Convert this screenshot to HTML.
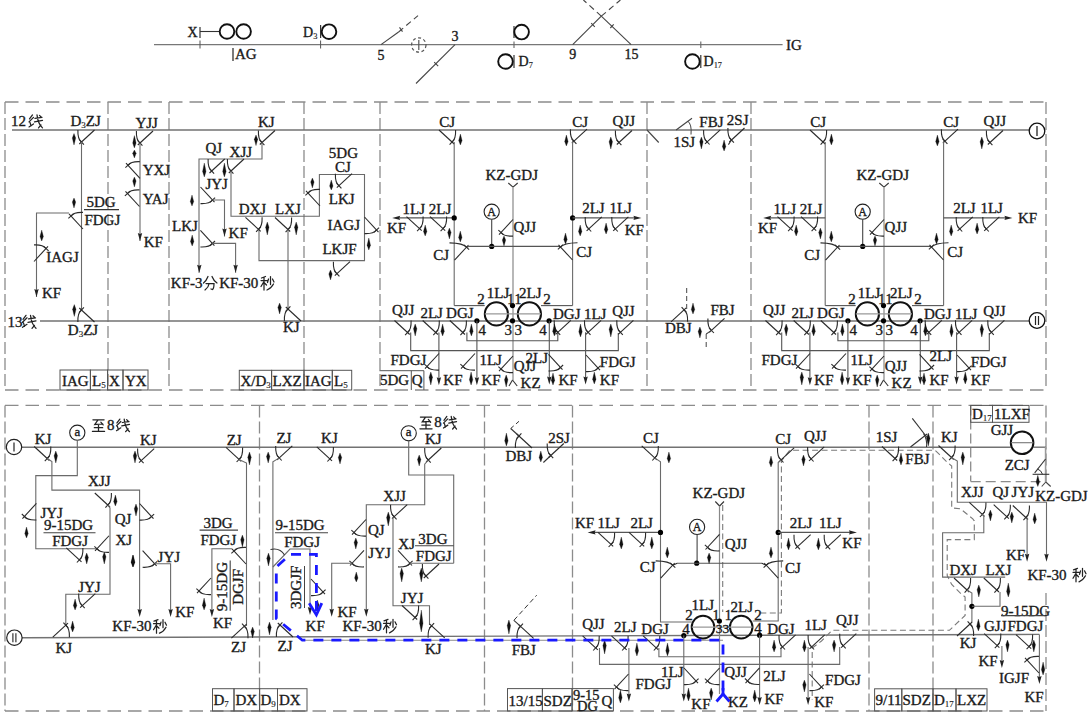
<!DOCTYPE html>
<html><head><meta charset="utf-8"><style>
html,body{margin:0;padding:0;background:#fff;}
svg{display:block;}
text{font-family:"Liberation Serif",serif;stroke:#1a1a1a;stroke-width:0.35px;}
</style></head><body>
<svg width="1090" height="720" viewBox="0 0 1090 720">
<rect width="1090" height="720" fill="#fff"/>
<line x1="154" y1="44.6" x2="782.6" y2="44.6" stroke="#777" stroke-width="1.1" />
<text x="786" y="49.6" font-size="15" text-anchor="start" fill="#1a1a1a" >IG</text>
<text x="187.5" y="37.0" font-size="14" text-anchor="start" fill="#1a1a1a" >X</text>
<line x1="200" y1="27" x2="200" y2="38" stroke="#333" stroke-width="1.2" />
<line x1="200" y1="31.5" x2="219.7" y2="31.5" stroke="#333" stroke-width="1.1" />
<circle cx="227" cy="31.5" r="7.3" fill="none" stroke="#111" stroke-width="1.9" />
<circle cx="243.6" cy="31.5" r="7.3" fill="none" stroke="#111" stroke-width="1.9" />
<line x1="200" y1="40.5" x2="200" y2="48.5" stroke="#555" stroke-width="1" />
<line x1="233" y1="48" x2="233" y2="61" stroke="#333" stroke-width="1.3"/>
<text x="235" y="59.4" font-size="15" text-anchor="start" fill="#1a1a1a" >AG</text>
<text x="303" y="36.8" font-size="14" text-anchor="start" fill="#1a1a1a">D<tspan font-size="8.4" dy="2" style="stroke-width:0.15px">3</tspan></text>
<line x1="320.6" y1="25" x2="320.6" y2="38" stroke="#333" stroke-width="1.2" />
<circle cx="329" cy="31.7" r="7.3" fill="none" stroke="#111" stroke-width="1.9" />
<line x1="320.6" y1="40.5" x2="320.6" y2="48.5" stroke="#555" stroke-width="1" />
<line x1="381" y1="44.6" x2="398.6" y2="32" stroke="#444" stroke-width="1.1" />
<line x1="398.6" y1="32" x2="418" y2="15.6" stroke="#444" stroke-width="1.1" stroke-dasharray="6 4" stroke-dashoffset="0"/>
<line x1="399.5" y1="27.4" x2="402.5" y2="31.6" stroke="#444" stroke-width="1.1" />
<text x="381" y="60.1" font-size="14" text-anchor="middle" fill="#1a1a1a" >5</text>
<circle cx="418.8" cy="45" r="7.2" fill="none" stroke="#555" stroke-width="1.2" stroke-dasharray="3 2.5"/>
<line x1="418.8" y1="40" x2="418.8" y2="50" stroke="#555" stroke-width="1.2" />
<line x1="455" y1="44.6" x2="416" y2="83.5" stroke="#444" stroke-width="1.1" />
<line x1="434.2" y1="62.2" x2="438.2" y2="66.2" stroke="#444" stroke-width="1.1" />
<text x="455" y="41.1" font-size="14" text-anchor="middle" fill="#1a1a1a" >3</text>
<line x1="514" y1="41.5" x2="514" y2="48" stroke="#666" stroke-width="1.1" />
<line x1="514" y1="26" x2="514" y2="38" stroke="#333" stroke-width="1.2" />
<circle cx="521.6" cy="32.1" r="7.3" fill="none" stroke="#111" stroke-width="1.9" />
<line x1="514" y1="55" x2="514" y2="68" stroke="#333" stroke-width="1.2" />
<circle cx="505.5" cy="61.5" r="7.3" fill="none" stroke="#111" stroke-width="1.9" />
<text x="518.5" y="66.1" font-size="14" text-anchor="start" fill="#1a1a1a">D<tspan font-size="8.4" dy="2" style="stroke-width:0.15px">7</tspan></text>
<line x1="572.7" y1="44.6" x2="601.3" y2="16.2" stroke="#444" stroke-width="1.1" />
<line x1="601.3" y1="16.2" x2="620.4" y2="0" stroke="#444" stroke-width="1.1" stroke-dasharray="6 4" stroke-dashoffset="0"/>
<line x1="631.1" y1="44.6" x2="601.3" y2="16.2" stroke="#444" stroke-width="1.1" />
<line x1="601.3" y1="16.2" x2="583.4" y2="0" stroke="#444" stroke-width="1.1" stroke-dasharray="6 4" stroke-dashoffset="0"/>
<line x1="591.2" y1="23.2" x2="594.8" y2="26.8" stroke="#444" stroke-width="1.1" />
<line x1="610.3" y1="28" x2="613.7" y2="24.4" stroke="#444" stroke-width="1.1" />
<text x="572.7" y="59.2" font-size="14" text-anchor="middle" fill="#1a1a1a" >9</text>
<text x="631.5" y="59.2" font-size="14" text-anchor="middle" fill="#1a1a1a" >15</text>
<line x1="700.8" y1="41.5" x2="700.8" y2="48" stroke="#666" stroke-width="1.1" />
<line x1="700.8" y1="55" x2="700.8" y2="68" stroke="#333" stroke-width="1.2" />
<circle cx="692.4" cy="61.5" r="7.3" fill="none" stroke="#111" stroke-width="1.9" />
<text x="703.5" y="66.1" font-size="14" text-anchor="start" fill="#1a1a1a">D<tspan font-size="8.4" dy="2" style="stroke-width:0.15px">17</tspan></text>
<line x1="5" y1="102" x2="1046" y2="102" stroke="#8c8c8c" stroke-width="1.3" stroke-dasharray="13.5 7" stroke-dashoffset="0"/>
<line x1="5" y1="390" x2="1046" y2="390" stroke="#8c8c8c" stroke-width="1.3" stroke-dasharray="13.5 7" stroke-dashoffset="0"/>
<line x1="5" y1="102" x2="5" y2="390" stroke="#8c8c8c" stroke-width="1.3" stroke-dasharray="12 4" stroke-dashoffset="0"/>
<line x1="108" y1="102" x2="108" y2="390" stroke="#8c8c8c" stroke-width="1.3" stroke-dasharray="12 4" stroke-dashoffset="0"/>
<line x1="169" y1="102" x2="169" y2="390" stroke="#8c8c8c" stroke-width="1.3" stroke-dasharray="12 4" stroke-dashoffset="0"/>
<line x1="304" y1="102" x2="304" y2="390" stroke="#8c8c8c" stroke-width="1.3" stroke-dasharray="12 4" stroke-dashoffset="0"/>
<line x1="380" y1="102" x2="380" y2="390" stroke="#8c8c8c" stroke-width="1.3" stroke-dasharray="12 4" stroke-dashoffset="0"/>
<line x1="647" y1="102" x2="647" y2="390" stroke="#8c8c8c" stroke-width="1.3" stroke-dasharray="12 4" stroke-dashoffset="0"/>
<line x1="751" y1="102" x2="751" y2="390" stroke="#8c8c8c" stroke-width="1.3" stroke-dasharray="12 4" stroke-dashoffset="0"/>
<line x1="1046" y1="102" x2="1046" y2="390" stroke="#8c8c8c" stroke-width="1.3" stroke-dasharray="12 4" stroke-dashoffset="0"/>
<line x1="12" y1="130" x2="1029" y2="130" stroke="#727272" stroke-width="1.4" />
<line x1="40" y1="321" x2="1029" y2="321" stroke="#727272" stroke-width="1.4" />
<circle cx="1037" cy="131" r="7.8" fill="none" stroke="#111" stroke-width="1.3" />
<line x1="1037" y1="126" x2="1037" y2="136" stroke="#222" stroke-width="1.3" />
<circle cx="1037" cy="320.5" r="7.8" fill="none" stroke="#111" stroke-width="1.3" />
<line x1="1035.5" y1="316" x2="1035.5" y2="325" stroke="#222" stroke-width="1.2" />
<line x1="1038.5" y1="316" x2="1038.5" y2="325" stroke="#222" stroke-width="1.2" />
<text x="11" y="126.4" font-size="15" text-anchor="start" fill="#1a1a1a" >12</text>
<path transform="translate(28,113.9) scale(1.0)" d="M1.5,5 L4.5,1 M1,8 L5.5,3.5 M1,13 L5.5,10 M2,8.5 L3,12 M7,4.5 L14,3.5 M6.5,8 L14.5,6.5 M9,1 Q10,10 14.5,14 M13,11 L10.5,14 M11.5,1.5 L13,3" fill="none" stroke="#222" stroke-width="1.25" stroke-linecap="round"/>
<text x="70.5" y="126.4" font-size="15" text-anchor="start" fill="#1a1a1a">D<tspan font-size="9.0" dy="2" style="stroke-width:0.15px">3</tspan><tspan dy="-2">ZJ</tspan></text>
<g transform="translate(81.5,142) rotate(0) scale(-1.0,1.0)" fill="none" stroke="#2a2a2a" stroke-width="1.1"><path d="M2.2,2 L-13,-12"/><path d="M3.6,-12 Q4,-3 0,0"/><path d="M-2.4,2.6 L2.4,-2.6"/></g>
<path d="M74,133.5 L75.70,138.10 L74,145 L72.30,138.10 Z" fill="#111" stroke="#111" stroke-width="0.3"/>
<line x1="81.5" y1="142" x2="81.5" y2="310" stroke="#6a6a6a" stroke-width="1.1" />
<g transform="translate(71,216) rotate(90) scale(-1.0,1.0)" fill="none" stroke="#2a2a2a" stroke-width="1.1"><path d="M2.2,2 L-13,-12"/><path d="M3.6,-12 Q4,-3 0,0"/><path d="M-2.4,2.6 L2.4,-2.6"/></g>
<polyline points="36.5,297 36.5,213 69,213" fill="none" stroke="#6a6a6a" stroke-width="1.1" />
<path d="M74,198 L75.70,202.00 L74,208 L72.30,202.00 Z" fill="#111" stroke="#111" stroke-width="0.3"/>
<text x="86.5" y="207.2" font-size="15" text-anchor="start" fill="#1a1a1a" >5DG</text>
<line x1="84" y1="209.6" x2="119" y2="209.6" stroke="#333" stroke-width="1.1" />
<text x="84.4" y="224.9" font-size="15" text-anchor="start" fill="#1a1a1a" >FDGJ</text>
<g transform="translate(46,248.5) rotate(-90) scale(1.0,1.0)" fill="none" stroke="#2a2a2a" stroke-width="1.1"><path d="M2.2,2 L-13,-12"/><path d="M3.6,-12 Q4,-3 0,0"/><path d="M-2.4,2.6 L2.4,-2.6"/></g>
<path d="M41.7,230 L43.40,236.60 L41.7,241 L40.00,236.60 Z" fill="#111" stroke="#111" stroke-width="0.3"/>
<text x="46.3" y="262.1" font-size="15" text-anchor="start" fill="#1a1a1a" >IAGJ</text>
<path d="M34.3,289 L36.5,297 L38.7,289 L36.5,290 Z" fill="#222"/>
<text x="42" y="297.6" font-size="15" text-anchor="start" fill="#1a1a1a" >KF</text>
<g transform="translate(81.5,310) rotate(0) scale(-1.0,-1.0)" fill="none" stroke="#2a2a2a" stroke-width="1.1"><path d="M2.2,2 L-13,-12"/><path d="M3.6,-12 Q4,-3 0,0"/><path d="M-2.4,2.6 L2.4,-2.6"/></g>
<path d="M74.3,304.6 L76.00,309.32 L74.3,316.4 L72.60,309.32 Z" fill="#111" stroke="#111" stroke-width="0.3"/>
<text x="7.5" y="326.8" font-size="15" text-anchor="start" fill="#1a1a1a" >13</text>
<path transform="translate(21.5,314.3) scale(1.0)" d="M1.5,5 L4.5,1 M1,8 L5.5,3.5 M1,13 L5.5,10 M2,8.5 L3,12 M7,4.5 L14,3.5 M6.5,8 L14.5,6.5 M9,1 Q10,10 14.5,14 M13,11 L10.5,14 M11.5,1.5 L13,3" fill="none" stroke="#222" stroke-width="1.25" stroke-linecap="round"/>
<text x="67.8" y="335.3" font-size="15" text-anchor="start" fill="#1a1a1a">D<tspan font-size="9.0" dy="2" style="stroke-width:0.15px">3</tspan><tspan dy="-2">ZJ</tspan></text>
<text x="135.4" y="128.0" font-size="15" text-anchor="start" fill="#1a1a1a" >YJJ</text>
<g transform="translate(140,143) rotate(0) scale(-1.0,1.0)" fill="none" stroke="#2a2a2a" stroke-width="1.1"><path d="M2.2,2 L-13,-12"/><path d="M3.6,-12 Q4,-3 0,0"/><path d="M-2.4,2.6 L2.4,-2.6"/></g>
<line x1="140" y1="143" x2="140" y2="241" stroke="#6a6a6a" stroke-width="1.1" />
<path d="M134.4,135.6 L136.10,143.04 L134.4,148 L132.70,143.04 Z" fill="#111" stroke="#111" stroke-width="0.3"/>
<path d="M134.4,150 L136.10,153.20 L134.4,158 L132.70,153.20 Z" fill="#111" stroke="#111" stroke-width="0.3"/>
<g transform="translate(128,165.3) rotate(90) scale(-1.0,1.0)" fill="none" stroke="#2a2a2a" stroke-width="1.1"><path d="M2.2,2 L-13,-12"/><path d="M3.6,-12 Q4,-3 0,0"/><path d="M-2.4,2.6 L2.4,-2.6"/></g>
<text x="142.7" y="174.9" font-size="15" text-anchor="start" fill="#1a1a1a" >YXJ</text>
<path d="M134.4,177 L136.10,181.00 L134.4,187 L132.70,181.00 Z" fill="#111" stroke="#111" stroke-width="0.3"/>
<g transform="translate(127.5,193.5) rotate(90) scale(-1.0,1.0)" fill="none" stroke="#2a2a2a" stroke-width="1.1"><path d="M2.2,2 L-13,-12"/><path d="M3.6,-12 Q4,-3 0,0"/><path d="M-2.4,2.6 L2.4,-2.6"/></g>
<text x="142.7" y="204.1" font-size="15" text-anchor="start" fill="#1a1a1a" >YAJ</text>
<path d="M137.8,233 L140,241 L142.2,233 L140,234 Z" fill="#222"/>
<text x="143.7" y="246.6" font-size="15" text-anchor="start" fill="#1a1a1a" >KF</text>
<text x="258" y="127.4" font-size="15" text-anchor="start" fill="#1a1a1a" >KJ</text>
<g transform="translate(262,142.5) rotate(0) scale(-1.0,1.0)" fill="none" stroke="#2a2a2a" stroke-width="1.1"><path d="M2.2,2 L-13,-12"/><path d="M3.6,-12 Q4,-3 0,0"/><path d="M-2.4,2.6 L2.4,-2.6"/></g>
<path d="M256,135 L257.70,139.24 L256,145.6 L254.30,139.24 Z" fill="#111" stroke="#111" stroke-width="0.3"/>
<polyline points="262,142.5 262,159 199,159 199,272.7" fill="none" stroke="#6a6a6a" stroke-width="1.1" />
<path d="M197.10000000000002,264.7 L199.3,272.7 L201.5,264.7 L199.3,265.7 Z" fill="#222"/>
<text x="205.4" y="152.8" font-size="15" text-anchor="start" fill="#1a1a1a" >QJ</text>
<g transform="translate(211.7,171) rotate(0) scale(-1.0,1.0)" fill="none" stroke="#2a2a2a" stroke-width="1.1"><path d="M2.2,2 L-13,-12"/><path d="M3.6,-12 Q4,-3 0,0"/><path d="M-2.4,2.6 L2.4,-2.6"/></g>
<path d="M204.3,163 L206.00,171.40 L204.3,177 L202.60,171.40 Z" fill="#111" stroke="#111" stroke-width="0.3"/>
<text x="229.6" y="156.5" font-size="15" text-anchor="start" fill="#1a1a1a" >XJJ</text>
<g transform="translate(231,171) rotate(0) scale(-1.0,1.0)" fill="none" stroke="#2a2a2a" stroke-width="1.1"><path d="M2.2,2 L-13,-12"/><path d="M3.6,-12 Q4,-3 0,0"/><path d="M-2.4,2.6 L2.4,-2.6"/></g>
<path d="M224.4,163 L226.10,171.40 L224.4,177 L222.70,171.40 Z" fill="#111" stroke="#111" stroke-width="0.3"/>
<polyline points="231,171 231,216.2 319.4,216.2 319.4,174.5 364.5,174.5 364.5,260.6 259,260.6 259,229" fill="none" stroke="#6a6a6a" stroke-width="1.1" />
<text x="205.4" y="188.5" font-size="15" text-anchor="start" fill="#1a1a1a" >JYJ</text>
<g transform="translate(212.5,200) rotate(-90) scale(-1.0,1.0)" fill="none" stroke="#2a2a2a" stroke-width="1.1"><path d="M2.2,2 L-13,-12"/><path d="M3.6,-12 Q4,-3 0,0"/><path d="M-2.4,2.6 L2.4,-2.6"/></g>
<polyline points="212.5,200 224.5,200 224.5,236.4" fill="none" stroke="#6a6a6a" stroke-width="1.1" />
<path d="M222.3,228.4 L224.5,236.4 L226.7,228.4 L224.5,229.4 Z" fill="#222"/>
<path d="M192,195 L193.70,201.60 L192,206 L190.30,201.60 Z" fill="#111" stroke="#111" stroke-width="0.3"/>
<text x="228.6" y="238.2" font-size="15" text-anchor="start" fill="#1a1a1a" >KF</text>
<text x="172" y="231.2" font-size="15" text-anchor="start" fill="#1a1a1a" >LKJ</text>
<g transform="translate(212.4,243.4) rotate(-90) scale(-1.0,1.0)" fill="none" stroke="#2a2a2a" stroke-width="1.1"><path d="M2.2,2 L-13,-12"/><path d="M3.6,-12 Q4,-3 0,0"/><path d="M-2.4,2.6 L2.4,-2.6"/></g>
<polyline points="212.4,243.4 235.6,243.4 235.6,272.7" fill="none" stroke="#6a6a6a" stroke-width="1.1" />
<path d="M233.4,264.7 L235.6,272.7 L237.79999999999998,264.7 L235.6,265.7 Z" fill="#222"/>
<path d="M192.2,235 L193.90,241.60 L192.2,246 L190.50,241.60 Z" fill="#111" stroke="#111" stroke-width="0.3"/>
<text x="170.8" y="287.9" font-size="15" text-anchor="start" fill="#1a1a1a" >KF-3</text>
<path transform="translate(202.5,275.5) scale(1.0)" d="M5.5,1 Q4,5 1,7.5 M9.5,1 Q11,5 14.5,7.5 M3.5,8 L11.5,8 Q11.5,13 10,14 L8.5,13.5 M6.5,8.5 Q6,12 2.5,14.5" fill="none" stroke="#222" stroke-width="1.25" stroke-linecap="round"/>
<text x="219.2" y="287.9" font-size="15" text-anchor="start" fill="#1a1a1a" >KF-30</text>
<path transform="translate(260,275.5) scale(1.0)" d="M5.5,1 L1.5,2.5 M1,5 L7,5 M4,2 L4,14.5 M4,6 L1,11 M4,7 L6.5,9.5 M10.5,1 L10.5,9 M8.5,3.5 L7.5,7 M12.5,3.5 L14,6.5 M13.5,8.5 Q11,13 7,14.5" fill="none" stroke="#222" stroke-width="1.25" stroke-linecap="round"/>
<text x="238.7" y="214.0" font-size="15" text-anchor="start" fill="#1a1a1a" >DXJ</text>
<g transform="translate(258.5,229.3) rotate(0) scale(1.0,1.0)" fill="none" stroke="#2a2a2a" stroke-width="1.1"><path d="M2.2,2 L-13,-12"/><path d="M3.6,-12 Q4,-3 0,0"/><path d="M-2.4,2.6 L2.4,-2.6"/></g>
<path d="M267.3,222 L269.00,227.20 L267.3,235 L265.60,227.20 Z" fill="#111" stroke="#111" stroke-width="0.3"/>
<text x="275" y="214.0" font-size="15" text-anchor="start" fill="#1a1a1a" >LXJ</text>
<g transform="translate(288,229.5) rotate(0) scale(1.0,1.0)" fill="none" stroke="#2a2a2a" stroke-width="1.1"><path d="M2.2,2 L-13,-12"/><path d="M3.6,-12 Q4,-3 0,0"/><path d="M-2.4,2.6 L2.4,-2.6"/></g>
<path d="M296.2,222 L297.90,227.20 L296.2,235 L294.50,227.20 Z" fill="#111" stroke="#111" stroke-width="0.3"/>
<line x1="288" y1="229.5" x2="288" y2="309" stroke="#6a6a6a" stroke-width="1.1" />
<g transform="translate(288,309) rotate(0) scale(-1.0,-1.0)" fill="none" stroke="#2a2a2a" stroke-width="1.1"><path d="M2.2,2 L-13,-12"/><path d="M3.6,-12 Q4,-3 0,0"/><path d="M-2.4,2.6 L2.4,-2.6"/></g>
<path d="M279.6,303 L281.30,307.40 L279.6,314 L277.90,307.40 Z" fill="#111" stroke="#111" stroke-width="0.3"/>
<text x="283" y="332.1" font-size="15" text-anchor="start" fill="#1a1a1a" >KJ</text>
<text x="328.8" y="157.9" font-size="15" text-anchor="start" fill="#1a1a1a" >5DG</text>
<text x="335" y="171.6" font-size="15" text-anchor="start" fill="#1a1a1a" >CJ</text>
<g transform="translate(339,185.7) rotate(0) scale(-1.0,1.0)" fill="none" stroke="#2a2a2a" stroke-width="1.1"><path d="M2.2,2 L-13,-12"/><path d="M3.6,-12 Q4,-3 0,0"/><path d="M-2.4,2.6 L2.4,-2.6"/></g>
<path d="M331.3,180 L333.00,186.00 L331.3,190 L329.60,186.00 Z" fill="#111" stroke="#111" stroke-width="0.3"/>
<text x="328.8" y="204.4" font-size="15" text-anchor="start" fill="#1a1a1a" >LKJ</text>
<g transform="translate(308,193) rotate(90) scale(-1.0,1.0)" fill="none" stroke="#2a2a2a" stroke-width="1.1"><path d="M2.2,2 L-13,-12"/><path d="M3.6,-12 Q4,-3 0,0"/><path d="M-2.4,2.6 L2.4,-2.6"/></g>
<path d="M312.4,178 L314.10,182.00 L312.4,188 L310.70,182.00 Z" fill="#111" stroke="#111" stroke-width="0.3"/>
<text x="327.5" y="230.2" font-size="15" text-anchor="start" fill="#1a1a1a" >IAGJ</text>
<g transform="translate(376.5,230) rotate(-90) scale(-1.0,1.0)" fill="none" stroke="#2a2a2a" stroke-width="1.1"><path d="M2.2,2 L-13,-12"/><path d="M3.6,-12 Q4,-3 0,0"/><path d="M-2.4,2.6 L2.4,-2.6"/></g>
<path d="M368.8,238 L370.50,245.20 L368.8,250 L367.10,245.20 Z" fill="#111" stroke="#111" stroke-width="0.3"/>
<text x="322.4" y="254.0" font-size="15" text-anchor="start" fill="#1a1a1a" >LKJF</text>
<g transform="translate(337,273.7) rotate(0) scale(-1.0,1.0)" fill="none" stroke="#2a2a2a" stroke-width="1.1"><path d="M2.2,2 L-13,-12"/><path d="M3.6,-12 Q4,-3 0,0"/><path d="M-2.4,2.6 L2.4,-2.6"/></g>
<path d="M330.5,270 L332.20,274.00 L330.5,280 L328.80,274.00 Z" fill="#111" stroke="#111" stroke-width="0.3"/>
<rect x="60" y="370" width="30.400000000000006" height="20" fill="none" stroke="#555" stroke-width="1.0"/>
<rect x="90.4" y="370" width="17.19999999999999" height="20" fill="none" stroke="#555" stroke-width="1.0"/>
<rect x="107.6" y="370" width="15.400000000000006" height="20" fill="none" stroke="#555" stroke-width="1.0"/>
<rect x="123" y="370" width="25" height="20" fill="none" stroke="#555" stroke-width="1.0"/>
<text x="62" y="386.4" font-size="15" text-anchor="start" fill="#1a1a1a" >IAG</text>
<text x="92" y="386.4" font-size="15" text-anchor="start" fill="#1a1a1a">L<tspan font-size="9.0" dy="2" style="stroke-width:0.15px">5</tspan></text>
<text x="109" y="386.4" font-size="15" text-anchor="start" fill="#1a1a1a" >X</text>
<text x="125" y="386.4" font-size="15" text-anchor="start" fill="#1a1a1a" >YX</text>
<rect x="239.3" y="370.3" width="32.30000000000001" height="19.69999999999999" fill="none" stroke="#555" stroke-width="1.0"/>
<rect x="271.6" y="370.3" width="32.39999999999998" height="19.69999999999999" fill="none" stroke="#555" stroke-width="1.0"/>
<rect x="304" y="370.3" width="28.30000000000001" height="19.69999999999999" fill="none" stroke="#555" stroke-width="1.0"/>
<rect x="332.3" y="370.3" width="19.399999999999977" height="19.69999999999999" fill="none" stroke="#555" stroke-width="1.0"/>
<text x="240.5" y="386.4" font-size="15" text-anchor="start" fill="#1a1a1a">X/D<tspan font-size="9.0" dy="2" style="stroke-width:0.15px">3</tspan></text>
<text x="272.5" y="386.4" font-size="15" text-anchor="start" fill="#1a1a1a" >LXZ</text>
<text x="305" y="386.4" font-size="15" text-anchor="start" fill="#1a1a1a" >IAG</text>
<text x="334" y="386.4" font-size="15" text-anchor="start" fill="#1a1a1a">L<tspan font-size="9.0" dy="2" style="stroke-width:0.15px">5</tspan></text>
<text x="439.2" y="127.0" font-size="15" text-anchor="start" fill="#1a1a1a" >CJ</text>
<g transform="translate(452,142) rotate(0) scale(1.0,1.0)" fill="none" stroke="#2a2a2a" stroke-width="1.1"><path d="M2.2,2 L-13,-12"/><path d="M3.6,-12 Q4,-3 0,0"/><path d="M-2.4,2.6 L2.4,-2.6"/></g>
<path d="M460.4,134 L462.10,140.60 L460.4,145 L458.70,140.60 Z" fill="#111" stroke="#111" stroke-width="0.3"/>
<line x1="454.2" y1="142" x2="454.2" y2="305.6" stroke="#6a6a6a" stroke-width="1.1" />
<text x="572.3" y="127.0" font-size="15" text-anchor="start" fill="#1a1a1a" >CJ</text>
<g transform="translate(574,141.2) rotate(0) scale(-1.0,1.0)" fill="none" stroke="#2a2a2a" stroke-width="1.1"><path d="M2.2,2 L-13,-12"/><path d="M3.6,-12 Q4,-3 0,0"/><path d="M-2.4,2.6 L2.4,-2.6"/></g>
<path d="M566.4,135 L568.10,141.60 L566.4,146 L564.70,141.60 Z" fill="#111" stroke="#111" stroke-width="0.3"/>
<line x1="572.6" y1="141" x2="572.6" y2="305.6" stroke="#6a6a6a" stroke-width="1.1" />
<text x="612.6" y="125.7" font-size="15" text-anchor="start" fill="#1a1a1a" >QJJ</text>
<g transform="translate(619,142.5) rotate(0) scale(-1.0,1.0)" fill="none" stroke="#2a2a2a" stroke-width="1.1"><path d="M2.2,2 L-13,-12"/><path d="M3.6,-12 Q4,-3 0,0"/><path d="M-2.4,2.6 L2.4,-2.6"/></g>
<path d="M610.8,137 L612.50,141.80 L610.8,149 L609.10,141.80 Z" fill="#111" stroke="#111" stroke-width="0.3"/>
<text x="485.5" y="180.0" font-size="15" text-anchor="start" fill="#1a1a1a" >KZ-GDJ</text>
<line x1="508.3" y1="183" x2="513" y2="187.2" stroke="#333" stroke-width="1.1" />
<line x1="517.7" y1="183" x2="513" y2="187.2" stroke="#333" stroke-width="1.1" />
<line x1="513" y1="187.2" x2="513" y2="380" stroke="#888" stroke-width="1.2" />
<line x1="454.2" y1="217.9" x2="399" y2="217.9" stroke="#555" stroke-width="1.1" />
<path d="M400.2,215.70000000000002 L392.2,217.9 L400.2,220.1 L399.2,217.9 Z" fill="#222"/>
<circle cx="454.2" cy="217.9" r="2.6" fill="#000"/>
<text x="402.5" y="214.0" font-size="15" text-anchor="start" fill="#1a1a1a" >1LJ</text>
<text x="428.8" y="214.0" font-size="15" text-anchor="start" fill="#1a1a1a" >2LJ</text>
<text x="387" y="232.8" font-size="15" text-anchor="start" fill="#1a1a1a" >KF</text>
<g transform="translate(419.5,228.6) rotate(0) scale(1.0,1.0)" fill="none" stroke="#2a2a2a" stroke-width="1.1"><path d="M2.2,2 L-13,-12"/><path d="M3.6,-12 Q4,-3 0,0"/><path d="M-2.4,2.6 L2.4,-2.6"/></g>
<g transform="translate(443,228.6) rotate(0) scale(1.0,1.0)" fill="none" stroke="#2a2a2a" stroke-width="1.1"><path d="M2.2,2 L-13,-12"/><path d="M3.6,-12 Q4,-3 0,0"/><path d="M-2.4,2.6 L2.4,-2.6"/></g>
<path d="M425.2,225 L426.90,231.60 L425.2,236 L423.50,231.60 Z" fill="#111" stroke="#111" stroke-width="0.3"/>
<path d="M449.4,228 L451.10,232.40 L449.4,239 L447.70,232.40 Z" fill="#111" stroke="#111" stroke-width="0.3"/>
<path d="M460.3,231 L462.00,237.60 L460.3,242 L458.60,237.60 Z" fill="#111" stroke="#111" stroke-width="0.3"/>
<circle cx="491.7" cy="211.7" r="7.6" fill="none" stroke="#222" stroke-width="1.1" />
<text x="491.7" y="216.0" font-size="12" text-anchor="middle" fill="#1a1a1a" >A</text>
<line x1="491.7" y1="219.3" x2="491.7" y2="246.4" stroke="#444" stroke-width="1.1" />
<circle cx="491.7" cy="246.4" r="2.6" fill="#000"/>
<g transform="translate(501,232.5) rotate(90) scale(1.0,1.0)" fill="none" stroke="#2a2a2a" stroke-width="1.1"><path d="M2.2,2 L-13,-12"/><path d="M3.6,-12 Q4,-3 0,0"/><path d="M-2.4,2.6 L2.4,-2.6"/></g>
<text x="513.6" y="231.9" font-size="15" text-anchor="start" fill="#1a1a1a" >QJJ</text>
<path d="M504,236 L505.70,240.00 L504,246 L502.30,240.00 Z" fill="#111" stroke="#111" stroke-width="0.3"/>
<circle cx="572.6" cy="217.9" r="2.6" fill="#000"/>
<line x1="572.6" y1="217.9" x2="635" y2="217.9" stroke="#555" stroke-width="1.1" />
<path d="M633.4,215.70000000000002 L641.4,217.9 L633.4,220.1 L634.4,217.9 Z" fill="#222"/>
<text x="582.2" y="213.2" font-size="15" text-anchor="start" fill="#1a1a1a" >2LJ</text>
<text x="609.4" y="213.2" font-size="15" text-anchor="start" fill="#1a1a1a" >1LJ</text>
<text x="624.7" y="235.2" font-size="15" text-anchor="start" fill="#1a1a1a" >KF</text>
<g transform="translate(588.8,228.9) rotate(0) scale(-1.0,1.0)" fill="none" stroke="#2a2a2a" stroke-width="1.1"><path d="M2.2,2 L-13,-12"/><path d="M3.6,-12 Q4,-3 0,0"/><path d="M-2.4,2.6 L2.4,-2.6"/></g>
<g transform="translate(615.4,228.9) rotate(0) scale(-1.0,1.0)" fill="none" stroke="#2a2a2a" stroke-width="1.1"><path d="M2.2,2 L-13,-12"/><path d="M3.6,-12 Q4,-3 0,0"/><path d="M-2.4,2.6 L2.4,-2.6"/></g>
<path d="M580.2,225 L581.90,231.60 L580.2,236 L578.50,231.60 Z" fill="#111" stroke="#111" stroke-width="0.3"/>
<path d="M606.1,223 L607.80,229.60 L606.1,234 L604.40,229.60 Z" fill="#111" stroke="#111" stroke-width="0.3"/>
<g transform="translate(466.5,247.2) rotate(-90) scale(1.0,1.0)" fill="none" stroke="#2a2a2a" stroke-width="1.1"><path d="M2.2,2 L-13,-12"/><path d="M4.3,-17 Q4,-3 0,0"/><path d="M-2.4,2.6 L2.4,-2.6"/></g>
<line x1="466.5" y1="247.2" x2="468.8" y2="246.4" stroke="#2a2a2a" stroke-width="1.1" />
<line x1="468.6" y1="246.4" x2="558.9" y2="246.4" stroke="#555" stroke-width="1.1" />
<text x="433.3" y="260.4" font-size="15" text-anchor="start" fill="#1a1a1a" >CJ</text>
<g transform="translate(560.5,247) rotate(90) scale(-1.0,1.0)" fill="none" stroke="#2a2a2a" stroke-width="1.1"><path d="M2.2,2 L-13,-12"/><path d="M4.3,-17 Q4,-3 0,0"/><path d="M-2.4,2.6 L2.4,-2.6"/></g>
<line x1="558.7" y1="246.4" x2="560.5" y2="247" stroke="#2a2a2a" stroke-width="1.1" />
<text x="576.2" y="257.1" font-size="15" text-anchor="start" fill="#1a1a1a" >CJ</text>
<path d="M565.5,233 L567.20,239.60 L565.5,244 L563.80,239.60 Z" fill="#111" stroke="#111" stroke-width="0.3"/>
<line x1="454.2" y1="305.6" x2="484.7" y2="305.6" stroke="#555" stroke-width="1.1" />
<line x1="541" y1="305.6" x2="572.6" y2="305.6" stroke="#555" stroke-width="1.1" />
<circle cx="496.4" cy="313.9" r="11.6" fill="none" stroke="#111" stroke-width="2.0" />
<circle cx="529.4" cy="313.9" r="11.6" fill="none" stroke="#111" stroke-width="2.0" />
<line x1="484.8" y1="313.9" x2="541" y2="313.9" stroke="#999" stroke-width="1.2" />
<circle cx="512.5" cy="305.6" r="2.6" fill="#000"/>
<circle cx="512.5" cy="320.8" r="2.6" fill="#000"/>
<circle cx="476.9" cy="320.8" r="2.6" fill="#000"/>
<circle cx="549.1" cy="320.8" r="2.6" fill="#000"/>
<text x="477.2" y="303.8" font-size="15" text-anchor="start" fill="#1a1a1a" >2</text>
<text x="486.8" y="297.6" font-size="15" text-anchor="start" fill="#1a1a1a" >1LJ</text>
<text x="507.2" y="304.1" font-size="14" text-anchor="start" fill="#1a1a1a" >1</text>
<text x="514.6" y="304.1" font-size="14" text-anchor="start" fill="#1a1a1a" >1</text>
<text x="519.1" y="297.6" font-size="15" text-anchor="start" fill="#1a1a1a" >2LJ</text>
<text x="543.2" y="303.8" font-size="15" text-anchor="start" fill="#1a1a1a" >2</text>
<text x="478.5" y="334.6" font-size="15" text-anchor="start" fill="#1a1a1a" >4</text>
<text x="504.4" y="334.6" font-size="15" text-anchor="start" fill="#1a1a1a" >3</text>
<text x="514.4" y="334.6" font-size="15" text-anchor="start" fill="#1a1a1a" >3</text>
<text x="539.2" y="335.2" font-size="15" text-anchor="start" fill="#1a1a1a" >4</text>
<text x="391.9" y="314.6" font-size="15" text-anchor="start" fill="#1a1a1a" >QJJ</text>
<g transform="translate(407.5,332.5) rotate(0) scale(1.0,1.0)" fill="none" stroke="#2a2a2a" stroke-width="1.1"><path d="M2.2,2 L-13,-12"/><path d="M3.6,-12 Q4,-3 0,0"/><path d="M-2.4,2.6 L2.4,-2.6"/></g>
<path d="M415.2,324 L416.90,328.80 L415.2,336 L413.50,328.80 Z" fill="#111" stroke="#111" stroke-width="0.3"/>
<polyline points="410.7,332.5 410.7,350.6 618.3,350.6 618.3,333" fill="none" stroke="#555" stroke-width="1.1" />
<text x="420.4" y="318.1" font-size="15" text-anchor="start" fill="#1a1a1a" >2LJ</text>
<g transform="translate(435.7,332.5) rotate(0) scale(1.0,1.0)" fill="none" stroke="#2a2a2a" stroke-width="1.1"><path d="M2.2,2 L-13,-12"/><path d="M3.6,-12 Q4,-3 0,0"/><path d="M-2.4,2.6 L2.4,-2.6"/></g>
<path d="M442.6,324 L444.30,331.20 L442.6,336 L440.90,331.20 Z" fill="#111" stroke="#111" stroke-width="0.3"/>
<line x1="438.9" y1="332.5" x2="438.9" y2="378" stroke="#555" stroke-width="1.1" />
<path d="M436.7,377.3 L438.9,385.3 L441.09999999999997,377.3 L438.9,378.3 Z" fill="#222"/>
<text x="446.1" y="318.1" font-size="15" text-anchor="start" fill="#1a1a1a" >DGJ</text>
<g transform="translate(462.8,332.5) rotate(0) scale(1.0,1.0)" fill="none" stroke="#2a2a2a" stroke-width="1.1"><path d="M2.2,2 L-13,-12"/><path d="M3.6,-12 Q4,-3 0,0"/><path d="M-2.4,2.6 L2.4,-2.6"/></g>
<path d="M471.4,324 L473.10,331.20 L471.4,336 L469.70,331.20 Z" fill="#111" stroke="#111" stroke-width="0.3"/>
<polyline points="466.9,332.5 466.9,340.7 557.8,340.7 557.8,333" fill="none" stroke="#555" stroke-width="1.1" />
<line x1="476.9" y1="320.8" x2="476.9" y2="378" stroke="#555" stroke-width="1.1" />
<path d="M474.7,377.3 L476.9,385.3 L479.09999999999997,377.3 L476.9,378.3 Z" fill="#222"/>
<line x1="549.3" y1="320.8" x2="549.3" y2="378" stroke="#555" stroke-width="1.1" />
<path d="M547.0999999999999,376.5 L549.3,384.5 L551.5,376.5 L549.3,377.5 Z" fill="#222"/>
<text x="553" y="318.8" font-size="15" text-anchor="start" fill="#1a1a1a" >DGJ</text>
<g transform="translate(557.8,332.3) rotate(0) scale(-1.0,1.0)" fill="none" stroke="#2a2a2a" stroke-width="1.1"><path d="M2.2,2 L-13,-12"/><path d="M3.6,-12 Q4,-3 0,0"/><path d="M-2.4,2.6 L2.4,-2.6"/></g>
<path d="M554.4,324 L556.10,331.20 L554.4,336 L552.70,331.20 Z" fill="#111" stroke="#111" stroke-width="0.3"/>
<text x="583.9" y="318.8" font-size="15" text-anchor="start" fill="#1a1a1a" >1LJ</text>
<g transform="translate(588.1,332.3) rotate(0) scale(-1.0,1.0)" fill="none" stroke="#2a2a2a" stroke-width="1.1"><path d="M2.2,2 L-13,-12"/><path d="M3.6,-12 Q4,-3 0,0"/><path d="M-2.4,2.6 L2.4,-2.6"/></g>
<path d="M580.5,324 L582.20,331.80 L580.5,337 L578.80,331.80 Z" fill="#111" stroke="#111" stroke-width="0.3"/>
<line x1="585.6" y1="332.3" x2="585.6" y2="378" stroke="#555" stroke-width="1.1" />
<path d="M583.4,376.5 L585.6,384.5 L587.8000000000001,376.5 L585.6,377.5 Z" fill="#222"/>
<text x="612.2" y="315.9" font-size="15" text-anchor="start" fill="#1a1a1a" >QJJ</text>
<g transform="translate(620.4,332.3) rotate(0) scale(-1.0,1.0)" fill="none" stroke="#2a2a2a" stroke-width="1.1"><path d="M2.2,2 L-13,-12"/><path d="M3.6,-12 Q4,-3 0,0"/><path d="M-2.4,2.6 L2.4,-2.6"/></g>
<path d="M610.8,324 L612.50,329.20 L610.8,337 L609.10,329.20 Z" fill="#111" stroke="#111" stroke-width="0.3"/>
<g transform="translate(427,366.5) rotate(90) scale(1.0,1.0)" fill="none" stroke="#2a2a2a" stroke-width="1.1"><path d="M2.2,2 L-13,-12"/><path d="M3.6,-12 Q4,-3 0,0"/><path d="M-2.4,2.6 L2.4,-2.6"/></g>
<text x="390.5" y="365.2" font-size="15" text-anchor="start" fill="#1a1a1a" >FDGJ</text>
<g transform="translate(463,366.5) rotate(90) scale(1.0,1.0)" fill="none" stroke="#2a2a2a" stroke-width="1.1"><path d="M2.2,2 L-13,-12"/><path d="M3.6,-12 Q4,-3 0,0"/><path d="M-2.4,2.6 L2.4,-2.6"/></g>
<text x="479.4" y="365.2" font-size="15" text-anchor="start" fill="#1a1a1a" >1LJ</text>
<g transform="translate(501,369) rotate(90) scale(1.0,1.0)" fill="none" stroke="#2a2a2a" stroke-width="1.1"><path d="M2.2,2 L-13,-12"/><path d="M3.6,-12 Q4,-3 0,0"/><path d="M-2.4,2.6 L2.4,-2.6"/></g>
<text x="513.7" y="371.2" font-size="15" text-anchor="start" fill="#1a1a1a" >QJJ</text>
<g transform="translate(560.5,367.4) rotate(-90) scale(-1.0,1.0)" fill="none" stroke="#2a2a2a" stroke-width="1.1"><path d="M2.2,2 L-13,-12"/><path d="M3.6,-12 Q4,-3 0,0"/><path d="M-2.4,2.6 L2.4,-2.6"/></g>
<text x="525.5" y="362.8" font-size="15" text-anchor="start" fill="#1a1a1a" >2LJ</text>
<g transform="translate(598,368) rotate(-90) scale(-1.0,1.0)" fill="none" stroke="#2a2a2a" stroke-width="1.1"><path d="M2.2,2 L-13,-12"/><path d="M3.6,-12 Q4,-3 0,0"/><path d="M-2.4,2.6 L2.4,-2.6"/></g>
<text x="599.8" y="366.8" font-size="15" text-anchor="start" fill="#1a1a1a" >FDGJ</text>
<path d="M430.8,372 L432.50,377.20 L430.8,385 L429.10,377.20 Z" fill="#111" stroke="#111" stroke-width="0.3"/>
<text x="443.3" y="385.4" font-size="15" text-anchor="start" fill="#1a1a1a" >KF</text>
<path d="M471.1,372 L472.80,379.80 L471.1,385 L469.40,379.80 Z" fill="#111" stroke="#111" stroke-width="0.3"/>
<text x="481.5" y="385.4" font-size="15" text-anchor="start" fill="#1a1a1a" >KF</text>
<path d="M506.2,375 L507.90,379.80 L506.2,387 L504.50,379.80 Z" fill="#111" stroke="#111" stroke-width="0.3"/>
<line x1="512.5" y1="380" x2="509" y2="386" stroke="#333" stroke-width="1.1" />
<line x1="512.5" y1="380" x2="517.2" y2="386" stroke="#333" stroke-width="1.1" />
<text x="520.6" y="387.6" font-size="15" text-anchor="start" fill="#1a1a1a" >KZ</text>
<path d="M553,373 L554.70,380.20 L553,385 L551.30,380.20 Z" fill="#111" stroke="#111" stroke-width="0.3"/>
<text x="558.5" y="384.8" font-size="15" text-anchor="start" fill="#1a1a1a" >KF</text>
<path d="M594.3,372 L596.00,379.20 L594.3,384 L592.60,379.20 Z" fill="#111" stroke="#111" stroke-width="0.3"/>
<text x="599.8" y="384.8" font-size="15" text-anchor="start" fill="#1a1a1a" >KF</text>
<text x="810.2" y="127.0" font-size="15" text-anchor="start" fill="#1a1a1a" >CJ</text>
<g transform="translate(823,142) rotate(0) scale(1.0,1.0)" fill="none" stroke="#2a2a2a" stroke-width="1.1"><path d="M2.2,2 L-13,-12"/><path d="M3.6,-12 Q4,-3 0,0"/><path d="M-2.4,2.6 L2.4,-2.6"/></g>
<path d="M831.4,134 L833.10,140.60 L831.4,145 L829.70,140.60 Z" fill="#111" stroke="#111" stroke-width="0.3"/>
<line x1="825.2" y1="142" x2="825.2" y2="305.6" stroke="#6a6a6a" stroke-width="1.1" />
<text x="943.3" y="127.0" font-size="15" text-anchor="start" fill="#1a1a1a" >CJ</text>
<g transform="translate(945,141.2) rotate(0) scale(-1.0,1.0)" fill="none" stroke="#2a2a2a" stroke-width="1.1"><path d="M2.2,2 L-13,-12"/><path d="M3.6,-12 Q4,-3 0,0"/><path d="M-2.4,2.6 L2.4,-2.6"/></g>
<path d="M937.4,135 L939.10,141.60 L937.4,146 L935.70,141.60 Z" fill="#111" stroke="#111" stroke-width="0.3"/>
<line x1="943.6" y1="141" x2="943.6" y2="305.6" stroke="#6a6a6a" stroke-width="1.1" />
<text x="983.6" y="125.7" font-size="15" text-anchor="start" fill="#1a1a1a" >QJJ</text>
<g transform="translate(990,142.5) rotate(0) scale(-1.0,1.0)" fill="none" stroke="#2a2a2a" stroke-width="1.1"><path d="M2.2,2 L-13,-12"/><path d="M3.6,-12 Q4,-3 0,0"/><path d="M-2.4,2.6 L2.4,-2.6"/></g>
<path d="M981.8,137 L983.50,141.80 L981.8,149 L980.10,141.80 Z" fill="#111" stroke="#111" stroke-width="0.3"/>
<text x="856.5" y="180.0" font-size="15" text-anchor="start" fill="#1a1a1a" >KZ-GDJ</text>
<line x1="879.3" y1="183" x2="884" y2="187.2" stroke="#333" stroke-width="1.1" />
<line x1="888.7" y1="183" x2="884" y2="187.2" stroke="#333" stroke-width="1.1" />
<line x1="884" y1="187.2" x2="884" y2="380" stroke="#888" stroke-width="1.2" />
<line x1="825.2" y1="217.9" x2="770" y2="217.9" stroke="#555" stroke-width="1.1" />
<path d="M771.2,215.70000000000002 L763.2,217.9 L771.2,220.1 L770.2,217.9 Z" fill="#222"/>
<text x="773.5" y="214.0" font-size="15" text-anchor="start" fill="#1a1a1a" >1LJ</text>
<text x="799.8" y="214.0" font-size="15" text-anchor="start" fill="#1a1a1a" >2LJ</text>
<text x="758" y="232.8" font-size="15" text-anchor="start" fill="#1a1a1a" >KF</text>
<g transform="translate(790.5,228.6) rotate(0) scale(1.0,1.0)" fill="none" stroke="#2a2a2a" stroke-width="1.1"><path d="M2.2,2 L-13,-12"/><path d="M3.6,-12 Q4,-3 0,0"/><path d="M-2.4,2.6 L2.4,-2.6"/></g>
<g transform="translate(814,228.6) rotate(0) scale(1.0,1.0)" fill="none" stroke="#2a2a2a" stroke-width="1.1"><path d="M2.2,2 L-13,-12"/><path d="M3.6,-12 Q4,-3 0,0"/><path d="M-2.4,2.6 L2.4,-2.6"/></g>
<path d="M796.2,225 L797.90,231.60 L796.2,236 L794.50,231.60 Z" fill="#111" stroke="#111" stroke-width="0.3"/>
<path d="M820.4,228 L822.10,232.40 L820.4,239 L818.70,232.40 Z" fill="#111" stroke="#111" stroke-width="0.3"/>
<path d="M831.3,231 L833.00,237.60 L831.3,242 L829.60,237.60 Z" fill="#111" stroke="#111" stroke-width="0.3"/>
<circle cx="862.7" cy="211.7" r="7.6" fill="none" stroke="#222" stroke-width="1.1" />
<text x="862.7" y="216.0" font-size="12" text-anchor="middle" fill="#1a1a1a" >A</text>
<line x1="862.7" y1="219.3" x2="862.7" y2="246.4" stroke="#444" stroke-width="1.1" />
<circle cx="862.7" cy="246.4" r="2.6" fill="#000"/>
<g transform="translate(872,232.5) rotate(90) scale(1.0,1.0)" fill="none" stroke="#2a2a2a" stroke-width="1.1"><path d="M2.2,2 L-13,-12"/><path d="M3.6,-12 Q4,-3 0,0"/><path d="M-2.4,2.6 L2.4,-2.6"/></g>
<text x="884.6" y="231.9" font-size="15" text-anchor="start" fill="#1a1a1a" >QJJ</text>
<path d="M875,236 L876.70,240.00 L875,246 L873.30,240.00 Z" fill="#111" stroke="#111" stroke-width="0.3"/>
<line x1="943.6" y1="217.9" x2="1006" y2="217.9" stroke="#555" stroke-width="1.1" />
<path d="M1004.4,215.70000000000002 L1012.4,217.9 L1004.4,220.1 L1005.4,217.9 Z" fill="#222"/>
<text x="953.2" y="213.2" font-size="15" text-anchor="start" fill="#1a1a1a" >2LJ</text>
<text x="980.4" y="213.2" font-size="15" text-anchor="start" fill="#1a1a1a" >1LJ</text>
<text x="1018" y="222.5" font-size="15" text-anchor="start" fill="#1a1a1a" >KF</text>
<g transform="translate(959.8,228.9) rotate(0) scale(-1.0,1.0)" fill="none" stroke="#2a2a2a" stroke-width="1.1"><path d="M2.2,2 L-13,-12"/><path d="M3.6,-12 Q4,-3 0,0"/><path d="M-2.4,2.6 L2.4,-2.6"/></g>
<g transform="translate(986.4,228.9) rotate(0) scale(-1.0,1.0)" fill="none" stroke="#2a2a2a" stroke-width="1.1"><path d="M2.2,2 L-13,-12"/><path d="M3.6,-12 Q4,-3 0,0"/><path d="M-2.4,2.6 L2.4,-2.6"/></g>
<path d="M951.2,225 L952.90,231.60 L951.2,236 L949.50,231.60 Z" fill="#111" stroke="#111" stroke-width="0.3"/>
<path d="M977.1,223 L978.80,229.60 L977.1,234 L975.40,229.60 Z" fill="#111" stroke="#111" stroke-width="0.3"/>
<g transform="translate(837.5,247.2) rotate(-90) scale(1.0,1.0)" fill="none" stroke="#2a2a2a" stroke-width="1.1"><path d="M2.2,2 L-13,-12"/><path d="M4.3,-17 Q4,-3 0,0"/><path d="M-2.4,2.6 L2.4,-2.6"/></g>
<line x1="837.5" y1="247.2" x2="839.8" y2="246.4" stroke="#2a2a2a" stroke-width="1.1" />
<line x1="839.6" y1="246.4" x2="929.9" y2="246.4" stroke="#555" stroke-width="1.1" />
<text x="804.3" y="260.4" font-size="15" text-anchor="start" fill="#1a1a1a" >CJ</text>
<g transform="translate(931.5,247) rotate(90) scale(-1.0,1.0)" fill="none" stroke="#2a2a2a" stroke-width="1.1"><path d="M2.2,2 L-13,-12"/><path d="M4.3,-17 Q4,-3 0,0"/><path d="M-2.4,2.6 L2.4,-2.6"/></g>
<line x1="929.7" y1="246.4" x2="931.5" y2="247" stroke="#2a2a2a" stroke-width="1.1" />
<text x="947.2" y="257.1" font-size="15" text-anchor="start" fill="#1a1a1a" >CJ</text>
<path d="M936.5,233 L938.20,239.60 L936.5,244 L934.80,239.60 Z" fill="#111" stroke="#111" stroke-width="0.3"/>
<line x1="825.2" y1="305.6" x2="855.7" y2="305.6" stroke="#555" stroke-width="1.1" />
<line x1="912" y1="305.6" x2="943.6" y2="305.6" stroke="#555" stroke-width="1.1" />
<circle cx="867.4" cy="313.9" r="11.6" fill="none" stroke="#111" stroke-width="2.0" />
<circle cx="900.4" cy="313.9" r="11.6" fill="none" stroke="#111" stroke-width="2.0" />
<line x1="855.8" y1="313.9" x2="912" y2="313.9" stroke="#999" stroke-width="1.2" />
<circle cx="883.5" cy="305.6" r="2.6" fill="#000"/>
<circle cx="883.5" cy="320.8" r="2.6" fill="#000"/>
<circle cx="847.9" cy="320.8" r="2.6" fill="#000"/>
<circle cx="920.1" cy="320.8" r="2.6" fill="#000"/>
<text x="848.2" y="303.8" font-size="15" text-anchor="start" fill="#1a1a1a" >2</text>
<text x="857.8" y="297.6" font-size="15" text-anchor="start" fill="#1a1a1a" >1LJ</text>
<text x="878.2" y="304.1" font-size="14" text-anchor="start" fill="#1a1a1a" >1</text>
<text x="885.6" y="304.1" font-size="14" text-anchor="start" fill="#1a1a1a" >1</text>
<text x="890.1" y="297.6" font-size="15" text-anchor="start" fill="#1a1a1a" >2LJ</text>
<text x="914.2" y="303.8" font-size="15" text-anchor="start" fill="#1a1a1a" >2</text>
<text x="849.5" y="334.6" font-size="15" text-anchor="start" fill="#1a1a1a" >4</text>
<text x="875.4" y="334.6" font-size="15" text-anchor="start" fill="#1a1a1a" >3</text>
<text x="885.4" y="334.6" font-size="15" text-anchor="start" fill="#1a1a1a" >3</text>
<text x="910.2" y="335.2" font-size="15" text-anchor="start" fill="#1a1a1a" >4</text>
<text x="762.9" y="314.6" font-size="15" text-anchor="start" fill="#1a1a1a" >QJJ</text>
<g transform="translate(778.5,332.5) rotate(0) scale(1.0,1.0)" fill="none" stroke="#2a2a2a" stroke-width="1.1"><path d="M2.2,2 L-13,-12"/><path d="M3.6,-12 Q4,-3 0,0"/><path d="M-2.4,2.6 L2.4,-2.6"/></g>
<path d="M786.2,324 L787.90,328.80 L786.2,336 L784.50,328.80 Z" fill="#111" stroke="#111" stroke-width="0.3"/>
<polyline points="781.7,332.5 781.7,350.6 989.3,350.6 989.3,333" fill="none" stroke="#555" stroke-width="1.1" />
<text x="791.4" y="318.1" font-size="15" text-anchor="start" fill="#1a1a1a" >2LJ</text>
<g transform="translate(806.7,332.5) rotate(0) scale(1.0,1.0)" fill="none" stroke="#2a2a2a" stroke-width="1.1"><path d="M2.2,2 L-13,-12"/><path d="M3.6,-12 Q4,-3 0,0"/><path d="M-2.4,2.6 L2.4,-2.6"/></g>
<path d="M813.6,324 L815.30,331.20 L813.6,336 L811.90,331.20 Z" fill="#111" stroke="#111" stroke-width="0.3"/>
<line x1="809.9" y1="332.5" x2="809.9" y2="378" stroke="#555" stroke-width="1.1" />
<path d="M807.6999999999999,377.3 L809.9,385.3 L812.1,377.3 L809.9,378.3 Z" fill="#222"/>
<text x="817.1" y="318.1" font-size="15" text-anchor="start" fill="#1a1a1a" >DGJ</text>
<g transform="translate(833.8,332.5) rotate(0) scale(1.0,1.0)" fill="none" stroke="#2a2a2a" stroke-width="1.1"><path d="M2.2,2 L-13,-12"/><path d="M3.6,-12 Q4,-3 0,0"/><path d="M-2.4,2.6 L2.4,-2.6"/></g>
<path d="M842.4,324 L844.10,331.20 L842.4,336 L840.70,331.20 Z" fill="#111" stroke="#111" stroke-width="0.3"/>
<polyline points="837.9,332.5 837.9,340.7 928.8,340.7 928.8,333" fill="none" stroke="#555" stroke-width="1.1" />
<line x1="847.9" y1="320.8" x2="847.9" y2="378" stroke="#555" stroke-width="1.1" />
<path d="M845.6999999999999,377.3 L847.9,385.3 L850.1,377.3 L847.9,378.3 Z" fill="#222"/>
<line x1="920.3" y1="320.8" x2="920.3" y2="378" stroke="#555" stroke-width="1.1" />
<path d="M918.0999999999999,376.5 L920.3,384.5 L922.5,376.5 L920.3,377.5 Z" fill="#222"/>
<text x="924" y="318.8" font-size="15" text-anchor="start" fill="#1a1a1a" >DGJ</text>
<g transform="translate(928.8,332.3) rotate(0) scale(-1.0,1.0)" fill="none" stroke="#2a2a2a" stroke-width="1.1"><path d="M2.2,2 L-13,-12"/><path d="M3.6,-12 Q4,-3 0,0"/><path d="M-2.4,2.6 L2.4,-2.6"/></g>
<path d="M925.4,324 L927.10,331.20 L925.4,336 L923.70,331.20 Z" fill="#111" stroke="#111" stroke-width="0.3"/>
<text x="954.9" y="318.8" font-size="15" text-anchor="start" fill="#1a1a1a" >1LJ</text>
<g transform="translate(959.1,332.3) rotate(0) scale(-1.0,1.0)" fill="none" stroke="#2a2a2a" stroke-width="1.1"><path d="M2.2,2 L-13,-12"/><path d="M3.6,-12 Q4,-3 0,0"/><path d="M-2.4,2.6 L2.4,-2.6"/></g>
<path d="M951.5,324 L953.20,331.80 L951.5,337 L949.80,331.80 Z" fill="#111" stroke="#111" stroke-width="0.3"/>
<line x1="956.6" y1="332.3" x2="956.6" y2="378" stroke="#555" stroke-width="1.1" />
<path d="M954.4,376.5 L956.6,384.5 L958.8000000000001,376.5 L956.6,377.5 Z" fill="#222"/>
<text x="983.2" y="315.9" font-size="15" text-anchor="start" fill="#1a1a1a" >QJJ</text>
<g transform="translate(991.4,332.3) rotate(0) scale(-1.0,1.0)" fill="none" stroke="#2a2a2a" stroke-width="1.1"><path d="M2.2,2 L-13,-12"/><path d="M3.6,-12 Q4,-3 0,0"/><path d="M-2.4,2.6 L2.4,-2.6"/></g>
<path d="M981.8,324 L983.50,329.20 L981.8,337 L980.10,329.20 Z" fill="#111" stroke="#111" stroke-width="0.3"/>
<g transform="translate(798,366.5) rotate(90) scale(1.0,1.0)" fill="none" stroke="#2a2a2a" stroke-width="1.1"><path d="M2.2,2 L-13,-12"/><path d="M3.6,-12 Q4,-3 0,0"/><path d="M-2.4,2.6 L2.4,-2.6"/></g>
<text x="761.5" y="365.2" font-size="15" text-anchor="start" fill="#1a1a1a" >FDGJ</text>
<g transform="translate(834,366.5) rotate(90) scale(1.0,1.0)" fill="none" stroke="#2a2a2a" stroke-width="1.1"><path d="M2.2,2 L-13,-12"/><path d="M3.6,-12 Q4,-3 0,0"/><path d="M-2.4,2.6 L2.4,-2.6"/></g>
<text x="850.4" y="365.2" font-size="15" text-anchor="start" fill="#1a1a1a" >1LJ</text>
<g transform="translate(872,369) rotate(90) scale(1.0,1.0)" fill="none" stroke="#2a2a2a" stroke-width="1.1"><path d="M2.2,2 L-13,-12"/><path d="M3.6,-12 Q4,-3 0,0"/><path d="M-2.4,2.6 L2.4,-2.6"/></g>
<text x="884.7" y="371.2" font-size="15" text-anchor="start" fill="#1a1a1a" >QJJ</text>
<g transform="translate(931.5,367.4) rotate(-90) scale(-1.0,1.0)" fill="none" stroke="#2a2a2a" stroke-width="1.1"><path d="M2.2,2 L-13,-12"/><path d="M3.6,-12 Q4,-3 0,0"/><path d="M-2.4,2.6 L2.4,-2.6"/></g>
<text x="929.6" y="360.8" font-size="15" text-anchor="start" fill="#1a1a1a" >2LJ</text>
<g transform="translate(969,368) rotate(-90) scale(-1.0,1.0)" fill="none" stroke="#2a2a2a" stroke-width="1.1"><path d="M2.2,2 L-13,-12"/><path d="M3.6,-12 Q4,-3 0,0"/><path d="M-2.4,2.6 L2.4,-2.6"/></g>
<text x="970.8" y="366.8" font-size="15" text-anchor="start" fill="#1a1a1a" >FDGJ</text>
<path d="M801.8,372 L803.50,377.20 L801.8,385 L800.10,377.20 Z" fill="#111" stroke="#111" stroke-width="0.3"/>
<text x="814.3" y="385.4" font-size="15" text-anchor="start" fill="#1a1a1a" >KF</text>
<path d="M842.1,372 L843.80,379.80 L842.1,385 L840.40,379.80 Z" fill="#111" stroke="#111" stroke-width="0.3"/>
<text x="852.5" y="385.4" font-size="15" text-anchor="start" fill="#1a1a1a" >KF</text>
<path d="M877.2,375 L878.90,379.80 L877.2,387 L875.50,379.80 Z" fill="#111" stroke="#111" stroke-width="0.3"/>
<line x1="883.5" y1="380" x2="880" y2="386" stroke="#333" stroke-width="1.1" />
<line x1="883.5" y1="380" x2="888.2" y2="386" stroke="#333" stroke-width="1.1" />
<text x="891.6" y="387.6" font-size="15" text-anchor="start" fill="#1a1a1a" >KZ</text>
<path d="M924,373 L925.70,380.20 L924,385 L922.30,380.20 Z" fill="#111" stroke="#111" stroke-width="0.3"/>
<text x="929.5" y="384.8" font-size="15" text-anchor="start" fill="#1a1a1a" >KF</text>
<path d="M965.3,372 L967.00,379.20 L965.3,384 L963.60,379.20 Z" fill="#111" stroke="#111" stroke-width="0.3"/>
<text x="970.8" y="384.8" font-size="15" text-anchor="start" fill="#1a1a1a" >KF</text>
<polyline points="379.4,370.7 423.9,370.7 423.9,390" fill="none" stroke="#555" stroke-width="1.0" />
<line x1="411.3" y1="370.7" x2="411.3" y2="390" stroke="#555" stroke-width="1.0" />
<text x="380" y="385.4" font-size="15" text-anchor="start" fill="#1a1a1a" >5DG</text>
<text x="411.8" y="385.4" font-size="15" text-anchor="start" fill="#1a1a1a" >Q</text>
<line x1="647" y1="130" x2="658.7" y2="142.5" stroke="#444" stroke-width="1.1" />
<line x1="676.1" y1="130" x2="692" y2="118.2" stroke="#444" stroke-width="1.1" />
<path d="M687.5,121 Q692,124 691,134.5" fill="none" stroke="#444" stroke-width="1"/>
<text x="673.5" y="147.4" font-size="15" text-anchor="start" fill="#1a1a1a" >1SJ</text>
<text x="699.3" y="127.4" font-size="15" text-anchor="start" fill="#1a1a1a" >FBJ</text>
<g transform="translate(707.2,141.9) rotate(0) scale(-1.0,1.0)" fill="none" stroke="#2a2a2a" stroke-width="1.1"><path d="M2.2,2 L-13,-12"/><path d="M3.6,-12 Q4,-3 0,0"/><path d="M-2.4,2.6 L2.4,-2.6"/></g>
<path d="M701.4,137 L703.10,141.80 L701.4,149 L699.70,141.80 Z" fill="#111" stroke="#111" stroke-width="0.3"/>
<text x="726.8" y="124.8" font-size="15" text-anchor="start" fill="#1a1a1a" >2SJ</text>
<g transform="translate(731.5,140) rotate(0) scale(-1.0,1.0)" fill="none" stroke="#2a2a2a" stroke-width="1.1"><path d="M2.2,2 L-13,-12"/><path d="M3.6,-12 Q4,-3 0,0"/><path d="M-2.4,2.6 L2.4,-2.6"/></g>
<line x1="731.5" y1="140" x2="728.4" y2="144.6" stroke="#333" stroke-width="1.1" />
<path d="M724.1,140 L725.80,146.60 L724.1,151 L722.40,146.60 Z" fill="#111" stroke="#111" stroke-width="0.3"/>
<g transform="translate(684,309.8) rotate(0) scale(1.0,-1.0)" fill="none" stroke="#2a2a2a" stroke-width="1.1"><path d="M2.2,2 L-13,-12"/><path d="M3.6,-12 Q4,-3 0,0"/><path d="M-2.4,2.6 L2.4,-2.6"/></g>
<line x1="686.7" y1="309" x2="686.7" y2="288" stroke="#444" stroke-width="1.0" stroke-dasharray="5 3" stroke-dashoffset="0"/>
<path d="M693,303 L694.70,309.60 L693,314 L691.30,309.60 Z" fill="#111" stroke="#111" stroke-width="0.3"/>
<text x="665" y="333.2" font-size="15" text-anchor="start" fill="#1a1a1a" >DBJ</text>
<g transform="translate(711.5,330.4) rotate(0) scale(-1.0,1.0)" fill="none" stroke="#2a2a2a" stroke-width="1.1"><path d="M2.2,2 L-13,-12"/><path d="M3.6,-12 Q4,-3 0,0"/><path d="M-2.4,2.6 L2.4,-2.6"/></g>
<line x1="711.5" y1="330.4" x2="706.2" y2="334" stroke="#444" stroke-width="1.1" />
<line x1="706.2" y1="334" x2="706.2" y2="350" stroke="#444" stroke-width="1.0" stroke-dasharray="5 3" stroke-dashoffset="0"/>
<path d="M699.9,327 L701.60,331.40 L699.9,338 L698.20,331.40 Z" fill="#111" stroke="#111" stroke-width="0.3"/>
<text x="710.4" y="314.8" font-size="15" text-anchor="start" fill="#1a1a1a" >FBJ</text>
<line x1="5" y1="405.4" x2="1046" y2="405.4" stroke="#8c8c8c" stroke-width="1.3" stroke-dasharray="13.5 7" stroke-dashoffset="0"/>
<line x1="5" y1="711" x2="1046" y2="711" stroke="#8c8c8c" stroke-width="1.3" stroke-dasharray="13.5 7" stroke-dashoffset="0"/>
<line x1="5" y1="405.4" x2="5" y2="711" stroke="#8c8c8c" stroke-width="1.3" stroke-dasharray="12 4" stroke-dashoffset="0"/>
<line x1="259.5" y1="405.4" x2="259.5" y2="711" stroke="#8c8c8c" stroke-width="1.3" stroke-dasharray="12 4" stroke-dashoffset="0"/>
<line x1="484.5" y1="405.4" x2="484.5" y2="711" stroke="#8c8c8c" stroke-width="1.3" stroke-dasharray="12 4" stroke-dashoffset="0"/>
<line x1="572.5" y1="405.4" x2="572.5" y2="711" stroke="#8c8c8c" stroke-width="1.3" stroke-dasharray="12 4" stroke-dashoffset="0"/>
<line x1="869" y1="405.4" x2="869" y2="711" stroke="#8c8c8c" stroke-width="1.3" stroke-dasharray="12 4" stroke-dashoffset="0"/>
<line x1="933" y1="405.4" x2="933" y2="711" stroke="#8c8c8c" stroke-width="1.3" stroke-dasharray="12 4" stroke-dashoffset="0"/>
<line x1="1046" y1="405.4" x2="1046" y2="481.6" stroke="#8c8c8c" stroke-width="1.3" stroke-dasharray="12 4" stroke-dashoffset="0"/>
<line x1="1046" y1="593" x2="1046" y2="711" stroke="#8c8c8c" stroke-width="1.3" stroke-dasharray="12 4" stroke-dashoffset="0"/>
<line x1="970.7" y1="405.4" x2="970.7" y2="481.6" stroke="#8c8c8c" stroke-width="1.3" stroke-dasharray="10 4" stroke-dashoffset="0"/>
<line x1="970.7" y1="481.6" x2="1046" y2="481.6" stroke="#8c8c8c" stroke-width="1.3" stroke-dasharray="10 5" stroke-dashoffset="0"/>
<line x1="21.7" y1="447.2" x2="1010.8" y2="447.2" stroke="#727272" stroke-width="1.4" />
<line x1="1033.4" y1="447.2" x2="1046" y2="447.2" stroke="#727272" stroke-width="1.4" />
<circle cx="14" cy="447" r="7.7" fill="none" stroke="#222" stroke-width="1.2" />
<line x1="14" y1="442.5" x2="14" y2="451.5" stroke="#222" stroke-width="1.2" />
<line x1="22" y1="637.7" x2="1039.4" y2="634.4" stroke="#727272" stroke-width="1.4" />
<circle cx="14.4" cy="637.7" r="7.7" fill="none" stroke="#222" stroke-width="1.2" />
<line x1="12.9" y1="633.2" x2="12.9" y2="642.2" stroke="#222" stroke-width="1.1" />
<line x1="15.9" y1="633.2" x2="15.9" y2="642.2" stroke="#222" stroke-width="1.1" />
<rect x="212.5" y="688.7" width="21.5" height="22.299999999999955" fill="none" stroke="#555" stroke-width="1.0"/>
<rect x="234" y="688.7" width="25.600000000000023" height="22.299999999999955" fill="none" stroke="#555" stroke-width="1.0"/>
<rect x="259.6" y="688.7" width="17.899999999999977" height="22.299999999999955" fill="none" stroke="#555" stroke-width="1.0"/>
<rect x="277.5" y="688.7" width="29.5" height="22.299999999999955" fill="none" stroke="#555" stroke-width="1.0"/>
<text x="213.5" y="705.2" font-size="15" text-anchor="start" fill="#1a1a1a">D<tspan font-size="9.0" dy="2" style="stroke-width:0.15px">7</tspan></text>
<text x="235.5" y="705.2" font-size="15" text-anchor="start" fill="#1a1a1a" >DX</text>
<text x="260.5" y="705.2" font-size="15" text-anchor="start" fill="#1a1a1a">D<tspan font-size="9.0" dy="2" style="stroke-width:0.15px">9</tspan></text>
<text x="279" y="705.2" font-size="15" text-anchor="start" fill="#1a1a1a" >DX</text>
<rect x="507.5" y="688.6" width="34.89999999999998" height="22.399999999999977" fill="none" stroke="#555" stroke-width="1.0"/>
<rect x="542.4" y="688.6" width="29.700000000000045" height="22.399999999999977" fill="none" stroke="#555" stroke-width="1.0"/>
<rect x="572.1" y="688.6" width="41.299999999999955" height="22.399999999999977" fill="none" stroke="#555" stroke-width="1.0"/>
<text x="508.5" y="705.6" font-size="15" text-anchor="start" fill="#1a1a1a" >13/15</text>
<text x="543.5" y="705.6" font-size="15" text-anchor="start" fill="#1a1a1a" >SDZ</text>
<text x="573" y="699.7" font-size="14.5" text-anchor="start" fill="#1a1a1a" >9-15</text>
<text x="577" y="710.5" font-size="14.5" text-anchor="start" fill="#1a1a1a" >DG</text>
<text x="601.5" y="705.6" font-size="15" text-anchor="start" fill="#1a1a1a" >Q</text>
<rect x="874.6" y="688.8" width="27.199999999999932" height="22.200000000000045" fill="none" stroke="#555" stroke-width="1.0"/>
<rect x="901.8" y="688.8" width="31.200000000000045" height="22.200000000000045" fill="none" stroke="#555" stroke-width="1.0"/>
<rect x="933" y="688.8" width="23" height="22.200000000000045" fill="none" stroke="#555" stroke-width="1.0"/>
<rect x="956" y="688.8" width="31" height="22.200000000000045" fill="none" stroke="#555" stroke-width="1.0"/>
<text x="875.5" y="705.2" font-size="15" text-anchor="start" fill="#1a1a1a" >9/11</text>
<text x="902.5" y="705.2" font-size="15" text-anchor="start" fill="#1a1a1a" >SDZ</text>
<text x="934" y="705.2" font-size="15" text-anchor="start" fill="#1a1a1a">D<tspan font-size="9.0" dy="2" style="stroke-width:0.15px">17</tspan></text>
<text x="957" y="705.2" font-size="15" text-anchor="start" fill="#1a1a1a" >LXZ</text>
<text x="34.7" y="443.9" font-size="15" text-anchor="start" fill="#1a1a1a" >KJ</text>
<g transform="translate(47.2,458.5) rotate(0) scale(1.0,1.0)" fill="none" stroke="#2a2a2a" stroke-width="1.1"><path d="M2.2,2 L-13,-12"/><path d="M3.6,-12 Q4,-3 0,0"/><path d="M-2.4,2.6 L2.4,-2.6"/></g>
<path d="M55.8,451 L57.50,455.80 L55.8,463 L54.10,455.80 Z" fill="#111" stroke="#111" stroke-width="0.3"/>
<polyline points="47.2,458.5 51.9,461.5 51.9,490.1 139.6,490.1 139.6,610" fill="none" stroke="#6a6a6a" stroke-width="1.1" />
<path d="M137.5,609 L139.7,617 L141.89999999999998,609 L139.7,610 Z" fill="#222"/>
<circle cx="77.3" cy="432.7" r="7.6" fill="none" stroke="#222" stroke-width="1.1" />
<text x="77.3" y="435.8" font-size="13" text-anchor="middle" fill="#1a1a1a" >a</text>
<polyline points="77.3,440.3 77.3,475.6 35.8,475.6 35.8,548.75 97,548.75" fill="none" stroke="#6a6a6a" stroke-width="1.1" />
<path transform="translate(91.5,418.4) scale(0.9333333333333333)" d="M1.5,1.5 L13.5,1.5 M7,1.5 L3.5,6.5 L12,6 M10,4 L12.5,7 M7.5,7 L7.5,13.5 M3,10 L12,10 M1,14 L14,14" fill="none" stroke="#222" stroke-width="1.34" stroke-linecap="round"/>
<text x="107" y="429.9" font-size="15" text-anchor="start" fill="#1a1a1a" >8</text>
<path transform="translate(115.5,418.15) scale(0.9666666666666667)" d="M1.5,5 L4.5,1 M1,8 L5.5,3.5 M1,13 L5.5,10 M2,8.5 L3,12 M7,4.5 L14,3.5 M6.5,8 L14.5,6.5 M9,1 Q10,10 14.5,14 M13,11 L10.5,14 M11.5,1.5 L13,3" fill="none" stroke="#222" stroke-width="1.29" stroke-linecap="round"/>
<text x="88.1" y="485.8" font-size="15" text-anchor="start" fill="#1a1a1a" >XJJ</text>
<g transform="translate(107.8,505) rotate(0) scale(1.0,1.0)" fill="none" stroke="#2a2a2a" stroke-width="1.1"><path d="M2.2,2 L-13,-12"/><path d="M3.6,-12 Q4,-3 0,0"/><path d="M-2.4,2.6 L2.4,-2.6"/></g>
<path d="M115.4,495 L117.10,501.60 L115.4,506 L113.70,501.60 Z" fill="#111" stroke="#111" stroke-width="0.3"/>
<polyline points="107.8,505 110,508 110,594.2 65.8,594.2 65.8,625.2" fill="none" stroke="#6a6a6a" stroke-width="1.1" />
<g transform="translate(97,548.75) rotate(90) scale(1.0,1.0)" fill="none" stroke="#2a2a2a" stroke-width="1.1"><path d="M2.2,2 L-13,-12"/><path d="M3.6,-12 Q4,-3 0,0"/><path d="M-2.4,2.6 L2.4,-2.6"/></g>
<g transform="translate(24.4,516.4) rotate(90) scale(1.0,1.0)" fill="none" stroke="#2a2a2a" stroke-width="1.1"><path d="M2.2,2 L-13,-12"/><path d="M3.6,-12 Q4,-3 0,0"/><path d="M-2.4,2.6 L2.4,-2.6"/></g>
<path d="M26.5,527 L28.20,533.60 L26.5,538 L24.80,533.60 Z" fill="#111" stroke="#111" stroke-width="0.3"/>
<text x="40.4" y="518.0" font-size="15" text-anchor="start" fill="#1a1a1a" >JYJ</text>
<text x="43.9" y="530.1" font-size="15" text-anchor="start" fill="#1a1a1a" >9-15DG</text>
<line x1="43.5" y1="532.8" x2="95.5" y2="532.8" stroke="#444" stroke-width="1.1" />
<text x="52.2" y="546.1" font-size="15" text-anchor="start" fill="#1a1a1a" >FDGJ</text>
<g transform="translate(79.3,559.9) rotate(0) scale(1.0,1.0)" fill="none" stroke="#2a2a2a" stroke-width="1.1"><path d="M2.2,2 L-13,-12"/><path d="M3.6,-12 Q4,-3 0,0"/><path d="M-2.4,2.6 L2.4,-2.6"/></g>
<path d="M86.7,553 L88.40,557.40 L86.7,564 L85.00,557.40 Z" fill="#111" stroke="#111" stroke-width="0.3"/>
<text x="114.7" y="523.6" font-size="15" text-anchor="start" fill="#1a1a1a" >QJ</text>
<text x="115.4" y="544.7" font-size="15" text-anchor="start" fill="#1a1a1a" >XJ</text>
<path d="M104.3,552 L106.00,556.80 L104.3,564 L102.60,556.80 Z" fill="#111" stroke="#111" stroke-width="0.3"/>
<path d="M132.8,555 L134.50,562.20 L132.8,567 L131.10,562.20 Z" fill="#111" stroke="#111" stroke-width="0.3"/>
<g transform="translate(151.5,516.5) rotate(-90) scale(-1.0,1.0)" fill="none" stroke="#2a2a2a" stroke-width="1.1"><path d="M2.2,2 L-13,-12"/><path d="M3.6,-12 Q4,-3 0,0"/><path d="M-2.4,2.6 L2.4,-2.6"/></g>
<path d="M136,504 L137.70,508.80 L136,516 L134.30,508.80 Z" fill="#111" stroke="#111" stroke-width="0.3"/>
<g transform="translate(154.6,563.7) rotate(-90) scale(-1.0,1.0)" fill="none" stroke="#2a2a2a" stroke-width="1.1"><path d="M2.2,2 L-13,-12"/><path d="M3.6,-12 Q4,-3 0,0"/><path d="M-2.4,2.6 L2.4,-2.6"/></g>
<polyline points="154.6,563.7 170.6,563.7 170.6,610" fill="none" stroke="#6a6a6a" stroke-width="1.1" />
<path d="M168.4,609 L170.6,617 L172.79999999999998,609 L170.6,610 Z" fill="#222"/>
<path d="M133.2,555 L134.90,562.20 L133.2,567 L131.50,562.20 Z" fill="#111" stroke="#111" stroke-width="0.3"/>
<text x="157.6" y="562.2" font-size="15" text-anchor="start" fill="#1a1a1a" >JYJ</text>
<text x="175.2" y="616.8" font-size="15" text-anchor="start" fill="#1a1a1a" >KF</text>
<text x="112.3" y="631.2" font-size="15" text-anchor="start" fill="#1a1a1a" >KF-30</text>
<path transform="translate(152.5,618.7) scale(1.0)" d="M5.5,1 L1.5,2.5 M1,5 L7,5 M4,2 L4,14.5 M4,6 L1,11 M4,7 L6.5,9.5 M10.5,1 L10.5,9 M8.5,3.5 L7.5,7 M12.5,3.5 L14,6.5 M13.5,8.5 Q11,13 7,14.5" fill="none" stroke="#222" stroke-width="1.25" stroke-linecap="round"/>
<g transform="translate(82.3,605.6) rotate(0) scale(-1.0,1.0)" fill="none" stroke="#2a2a2a" stroke-width="1.1"><path d="M2.2,2 L-13,-12"/><path d="M3.6,-12 Q4,-3 0,0"/><path d="M-2.4,2.6 L2.4,-2.6"/></g>
<path d="M75.1,599 L76.80,605.60 L75.1,610 L73.40,605.60 Z" fill="#111" stroke="#111" stroke-width="0.3"/>
<text x="78.2" y="592.0" font-size="15" text-anchor="start" fill="#1a1a1a" >JYJ</text>
<g transform="translate(65.8,625.2) rotate(0) scale(1.0,-1.0)" fill="none" stroke="#2a2a2a" stroke-width="1.1"><path d="M2.2,2 L-13,-12"/><path d="M3.6,-12 Q4,-3 0,0"/><path d="M-2.4,2.6 L2.4,-2.6"/></g>
<path d="M72.6,621 L74.30,627.60 L72.6,632 L70.90,627.60 Z" fill="#111" stroke="#111" stroke-width="0.3"/>
<text x="55.5" y="652.9" font-size="15" text-anchor="start" fill="#1a1a1a" >KJ</text>
<text x="140" y="444.6" font-size="15" text-anchor="start" fill="#1a1a1a" >KJ</text>
<g transform="translate(141.2,460.6) rotate(0) scale(-1.0,1.0)" fill="none" stroke="#2a2a2a" stroke-width="1.1"><path d="M2.2,2 L-13,-12"/><path d="M3.6,-12 Q4,-3 0,0"/><path d="M-2.4,2.6 L2.4,-2.6"/></g>
<path d="M135,451 L136.70,455.80 L135,463 L133.30,455.80 Z" fill="#111" stroke="#111" stroke-width="0.3"/>
<text x="226.7" y="444.6" font-size="15" text-anchor="start" fill="#1a1a1a" >ZJ</text>
<g transform="translate(239,459.4) rotate(0) scale(1.0,1.0)" fill="none" stroke="#2a2a2a" stroke-width="1.1"><path d="M2.2,2 L-13,-12"/><path d="M3.6,-12 Q4,-3 0,0"/><path d="M-2.4,2.6 L2.4,-2.6"/></g>
<path d="M249.5,452 L251.20,457.20 L249.5,465 L247.80,457.20 Z" fill="#111" stroke="#111" stroke-width="0.3"/>
<polyline points="239,459.4 246.5,463 246.5,626" fill="none" stroke="#6a6a6a" stroke-width="1.1" />
<text x="203.5" y="528.2" font-size="15" text-anchor="start" fill="#1a1a1a" >3DG</text>
<line x1="199.6" y1="530.1" x2="238" y2="530.1" stroke="#444" stroke-width="1.1" />
<text x="200.4" y="544.9" font-size="15" text-anchor="start" fill="#1a1a1a" >FDGJ</text>
<g transform="translate(234,551) rotate(90) scale(-1.0,1.0)" fill="none" stroke="#2a2a2a" stroke-width="1.1"><path d="M2.2,2 L-13,-12"/><path d="M3.6,-12 Q4,-3 0,0"/><path d="M-2.4,2.6 L2.4,-2.6"/></g>
<path d="M242.4,535 L244.10,539.80 L242.4,547 L240.70,539.80 Z" fill="#111" stroke="#111" stroke-width="0.3"/>
<polyline points="232,548.8 211.9,548.8 211.9,610" fill="none" stroke="#6a6a6a" stroke-width="1.1" />
<path d="M209.70000000000002,609 L211.9,617 L214.1,609 L211.9,610 Z" fill="#222"/>
<g transform="translate(199,591) rotate(90) scale(1.0,1.0)" fill="none" stroke="#2a2a2a" stroke-width="1.1"><path d="M2.2,2 L-13,-12"/><path d="M3.6,-12 Q4,-3 0,0"/><path d="M-2.4,2.6 L2.4,-2.6"/></g>
<path d="M204.1,598 L205.80,605.20 L204.1,610 L202.40,605.20 Z" fill="#111" stroke="#111" stroke-width="0.3"/>
<text x="213" y="628.1" font-size="15" text-anchor="start" fill="#1a1a1a" >KF</text>
<text x="221.8" y="591.6" font-size="15" text-anchor="middle" fill="#1a1a1a" transform="rotate(-90 221.8 586.6)">9-15DG</text>
<text x="238.3" y="591.9" font-size="15" text-anchor="middle" fill="#1a1a1a" transform="rotate(-90 238.3 586.9)">DGJF</text>
<line x1="230.2" y1="560.6" x2="230.2" y2="610.8" stroke="#444" stroke-width="1.1" />
<g transform="translate(244.4,626.2) rotate(0) scale(1.0,-1.0)" fill="none" stroke="#2a2a2a" stroke-width="1.1"><path d="M2.2,2 L-13,-12"/><path d="M3.6,-12 Q4,-3 0,0"/><path d="M-2.4,2.6 L2.4,-2.6"/></g>
<path d="M252.6,627 L254.30,631.40 L252.6,638 L250.90,631.40 Z" fill="#111" stroke="#111" stroke-width="0.3"/>
<text x="231" y="651.9" font-size="15" text-anchor="start" fill="#1a1a1a" >ZJ</text>
<text x="276.4" y="443.4" font-size="15" text-anchor="start" fill="#1a1a1a" >ZJ</text>
<g transform="translate(279.3,457.9) rotate(0) scale(-1.0,1.0)" fill="none" stroke="#2a2a2a" stroke-width="1.1"><path d="M2.2,2 L-13,-12"/><path d="M3.6,-12 Q4,-3 0,0"/><path d="M-2.4,2.6 L2.4,-2.6"/></g>
<path d="M268.2,452 L269.90,456.40 L268.2,463 L266.50,456.40 Z" fill="#111" stroke="#111" stroke-width="0.3"/>
<polyline points="279.3,457.9 272.9,461.8 272.9,620" fill="none" stroke="#6a6a6a" stroke-width="1.1" />
<text x="321.1" y="443.4" font-size="15" text-anchor="start" fill="#1a1a1a" >KJ</text>
<g transform="translate(329.8,458.9) rotate(0) scale(1.0,1.0)" fill="none" stroke="#2a2a2a" stroke-width="1.1"><path d="M2.2,2 L-13,-12"/><path d="M3.6,-12 Q4,-3 0,0"/><path d="M-2.4,2.6 L2.4,-2.6"/></g>
<path d="M340,453 L341.70,457.40 L340,464 L338.30,457.40 Z" fill="#111" stroke="#111" stroke-width="0.3"/>
<text x="275.4" y="530.0" font-size="15" text-anchor="start" fill="#1a1a1a" >9-15DG</text>
<line x1="275" y1="532.8" x2="328" y2="532.8" stroke="#444" stroke-width="1.1" />
<text x="284.2" y="546.5" font-size="15" text-anchor="start" fill="#1a1a1a" >FDGJ</text>
<polyline points="272.9,567 290,549 310,549 310,610" fill="none" stroke="#6a6a6a" stroke-width="1.1" />
<path d="M307.8,607 L310,615 L312.2,607 L310,608 Z" fill="#222"/>
<path d="M270.5,549.5 Q280,547.5 284.5,555" fill="none" stroke="#333" stroke-width="1.05"/>
<path d="M268.5,553 L270.20,558.20 L268.5,566 L266.80,558.20 Z" fill="#111" stroke="#111" stroke-width="0.3"/>
<g transform="translate(280,625) rotate(0) scale(-1.0,-1.0)" fill="none" stroke="#2a2a2a" stroke-width="1.1"><path d="M2.2,2 L-13,-12"/><path d="M3.6,-12 Q4,-3 0,0"/><path d="M-2.4,2.6 L2.4,-2.6"/></g>
<path d="M269.5,622 L271.20,627.20 L269.5,635 L267.80,627.20 Z" fill="#111" stroke="#111" stroke-width="0.3"/>
<text x="277.6" y="650.6" font-size="15" text-anchor="start" fill="#1a1a1a" >ZJ</text>
<text x="296.5" y="592.2" font-size="15" text-anchor="middle" fill="#1a1a1a" transform="rotate(-90 296.5 587.3)">3DGJF</text>
<line x1="304.5" y1="566" x2="304.5" y2="608" stroke="#444" stroke-width="1.0" />
<g transform="translate(323,592) rotate(-90) scale(-1.0,1.0)" fill="none" stroke="#2a2a2a" stroke-width="1.1"><path d="M2.2,2 L-13,-12"/><path d="M3.6,-12 Q4,-3 0,0"/><path d="M-2.4,2.6 L2.4,-2.6"/></g>
<path d="M317.3,600 L319.00,604.80 L317.3,612 L315.60,604.80 Z" fill="#111" stroke="#111" stroke-width="0.3"/>
<text x="305.6" y="630.7" font-size="15" text-anchor="start" fill="#1a1a1a" >KF</text>
<circle cx="408.7" cy="433.3" r="7.6" fill="none" stroke="#222" stroke-width="1.1" />
<text x="408.7" y="436.3" font-size="13" text-anchor="middle" fill="#1a1a1a" >a</text>
<polyline points="408.7,441 408.7,475 453.7,475 453.7,563.3" fill="none" stroke="#6a6a6a" stroke-width="1.1" />
<path transform="translate(419,415.7) scale(0.9333333333333333)" d="M1.5,1.5 L13.5,1.5 M7,1.5 L3.5,6.5 L12,6 M10,4 L12.5,7 M7.5,7 L7.5,13.5 M3,10 L12,10 M1,14 L14,14" fill="none" stroke="#222" stroke-width="1.34" stroke-linecap="round"/>
<text x="434.2" y="427.3" font-size="15" text-anchor="start" fill="#1a1a1a" >8</text>
<path transform="translate(442.5,415.45) scale(0.9666666666666667)" d="M1.5,5 L4.5,1 M1,8 L5.5,3.5 M1,13 L5.5,10 M2,8.5 L3,12 M7,4.5 L14,3.5 M6.5,8 L14.5,6.5 M9,1 Q10,10 14.5,14 M13,11 L10.5,14 M11.5,1.5 L13,3" fill="none" stroke="#222" stroke-width="1.29" stroke-linecap="round"/>
<text x="425" y="444.1" font-size="15" text-anchor="start" fill="#1a1a1a" >KJ</text>
<g transform="translate(428.3,460) rotate(0) scale(-1.0,1.0)" fill="none" stroke="#2a2a2a" stroke-width="1.1"><path d="M2.2,2 L-13,-12"/><path d="M3.6,-12 Q4,-3 0,0"/><path d="M-2.4,2.6 L2.4,-2.6"/></g>
<path d="M419.2,455 L420.90,459.40 L419.2,466 L417.50,459.40 Z" fill="#111" stroke="#111" stroke-width="0.3"/>
<polyline points="428.3,460 424.7,464.2 424.7,504.7 366.3,504.7 366.3,610" fill="none" stroke="#6a6a6a" stroke-width="1.1" />
<path d="M364.1,608.7 L366.3,616.7 L368.5,608.7 L366.3,609.7 Z" fill="#222"/>
<text x="383.3" y="500.8" font-size="15" text-anchor="start" fill="#1a1a1a" >XJJ</text>
<g transform="translate(394.2,516.7) rotate(0) scale(-1.0,1.0)" fill="none" stroke="#2a2a2a" stroke-width="1.1"><path d="M2.2,2 L-13,-12"/><path d="M3.6,-12 Q4,-3 0,0"/><path d="M-2.4,2.6 L2.4,-2.6"/></g>
<path d="M388.3,512 L390.00,517.60 L388.3,526 L386.60,517.60 Z" fill="#111" stroke="#111" stroke-width="0.3"/>
<polyline points="393,517 393,605.8 429.5,605.8 429.5,625" fill="none" stroke="#6a6a6a" stroke-width="1.1" />
<g transform="translate(354,532.5) rotate(90) scale(1.0,1.0)" fill="none" stroke="#2a2a2a" stroke-width="1.1"><path d="M2.2,2 L-13,-12"/><path d="M3.6,-12 Q4,-3 0,0"/><path d="M-2.4,2.6 L2.4,-2.6"/></g>
<text x="368" y="535.0" font-size="15" text-anchor="start" fill="#1a1a1a" >QJ</text>
<g transform="translate(352,563.3) rotate(90) scale(1.0,1.0)" fill="none" stroke="#2a2a2a" stroke-width="1.1"><path d="M2.2,2 L-13,-12"/><path d="M3.6,-12 Q4,-3 0,0"/><path d="M-2.4,2.6 L2.4,-2.6"/></g>
<polyline points="352,563.3 331.7,563.3 331.7,610" fill="none" stroke="#6a6a6a" stroke-width="1.1" />
<path d="M329.5,608.7 L331.7,616.7 L333.9,608.7 L331.7,609.7 Z" fill="#222"/>
<text x="368.3" y="558.2" font-size="15" text-anchor="start" fill="#1a1a1a" >JYJ</text>
<path d="M356.3,572 L358.00,578.00 L356.3,582 L354.60,578.00 Z" fill="#111" stroke="#111" stroke-width="0.3"/>
<path d="M355.8,538 L357.50,542.40 L355.8,549 L354.10,542.40 Z" fill="#111" stroke="#111" stroke-width="0.3"/>
<text x="337.5" y="616.7" font-size="15" text-anchor="start" fill="#1a1a1a" >KF</text>
<text x="342.5" y="630.8" font-size="15" text-anchor="start" fill="#1a1a1a" >KF-30</text>
<path transform="translate(382.5,618.3) scale(1.0)" d="M5.5,1 L1.5,2.5 M1,5 L7,5 M4,2 L4,14.5 M4,6 L1,11 M4,7 L6.5,9.5 M10.5,1 L10.5,9 M8.5,3.5 L7.5,7 M12.5,3.5 L14,6.5 M13.5,8.5 Q11,13 7,14.5" fill="none" stroke="#222" stroke-width="1.25" stroke-linecap="round"/>
<g transform="translate(410,563.3) rotate(-90) scale(-1.0,1.0)" fill="none" stroke="#2a2a2a" stroke-width="1.1"><path d="M2.2,2 L-13,-12"/><path d="M3.6,-12 Q4,-3 0,0"/><path d="M-2.4,2.6 L2.4,-2.6"/></g>
<line x1="410" y1="563.3" x2="453.7" y2="563.3" stroke="#6a6a6a" stroke-width="1.1" />
<text x="398.3" y="549.2" font-size="15" text-anchor="start" fill="#1a1a1a" >XJ</text>
<text x="418.3" y="544.2" font-size="15" text-anchor="start" fill="#1a1a1a" >3DG</text>
<line x1="415" y1="545.8" x2="453.7" y2="545.8" stroke="#444" stroke-width="1.1" />
<text x="415.8" y="560.8" font-size="15" text-anchor="start" fill="#1a1a1a" >FDGJ</text>
<g transform="translate(426,576) rotate(0) scale(-1.0,1.0)" fill="none" stroke="#2a2a2a" stroke-width="1.1"><path d="M2.2,2 L-13,-12"/><path d="M3.6,-12 Q4,-3 0,0"/><path d="M-2.4,2.6 L2.4,-2.6"/></g>
<path d="M401.7,568 L403.40,573.60 L401.7,582 L400.00,573.60 Z" fill="#111" stroke="#111" stroke-width="0.3"/>
<path d="M421.3,568 L423.00,573.60 L421.3,582 L419.60,573.60 Z" fill="#111" stroke="#111" stroke-width="0.3"/>
<g transform="translate(415,617.5) rotate(0) scale(1.0,1.0)" fill="none" stroke="#2a2a2a" stroke-width="1.1"><path d="M2.2,2 L-13,-12"/><path d="M3.6,-12 Q4,-3 0,0"/><path d="M-2.4,2.6 L2.4,-2.6"/></g>
<text x="400.8" y="603.2" font-size="15" text-anchor="start" fill="#1a1a1a" >JYJ</text>
<path d="M421.3,610 L423.00,623.20 L421.3,632 L419.60,623.20 Z" fill="#111" stroke="#111" stroke-width="0.3"/>
<g transform="translate(431.7,625.8) rotate(0) scale(-1.0,-1.0)" fill="none" stroke="#2a2a2a" stroke-width="1.1"><path d="M2.2,2 L-13,-12"/><path d="M3.6,-12 Q4,-3 0,0"/><path d="M-2.4,2.6 L2.4,-2.6"/></g>
<text x="425" y="654.0" font-size="15" text-anchor="start" fill="#1a1a1a" >KJ</text>
<g transform="translate(519,436) rotate(0) scale(-1.0,-1.0)" fill="none" stroke="#2a2a2a" stroke-width="1.1"><path d="M2.2,2 L-13,-12"/><path d="M3.6,-12 Q4,-3 0,0"/><path d="M-2.4,2.6 L2.4,-2.6"/></g>
<line x1="519" y1="436" x2="510.7" y2="428.5" stroke="#333" stroke-width="1.1" />
<line x1="510.7" y1="428.5" x2="521.2" y2="419.4" stroke="#333" stroke-width="1.0" stroke-dasharray="4 3" stroke-dashoffset="0"/>
<path d="M506.4,433 L508.10,440.80 L506.4,446 L504.70,440.80 Z" fill="#111" stroke="#111" stroke-width="0.3"/>
<text x="505.5" y="461.3" font-size="15" text-anchor="start" fill="#1a1a1a" >DBJ</text>
<g transform="translate(550.8,455.5) rotate(0) scale(-1.0,1.0)" fill="none" stroke="#2a2a2a" stroke-width="1.1"><path d="M2.2,2 L-13,-12"/><path d="M3.6,-12 Q4,-3 0,0"/><path d="M-2.4,2.6 L2.4,-2.6"/></g>
<line x1="550.8" y1="455.5" x2="543.4" y2="462.5" stroke="#333" stroke-width="1.1" />
<path d="M540.8,451 L542.50,457.60 L540.8,462 L539.10,457.60 Z" fill="#111" stroke="#111" stroke-width="0.3"/>
<text x="548.2" y="442.6" font-size="15" text-anchor="start" fill="#1a1a1a" >2SJ</text>
<g transform="translate(520.6,626.3) rotate(0) scale(-1.0,-1.0)" fill="none" stroke="#2a2a2a" stroke-width="1.1"><path d="M2.2,2 L-13,-12"/><path d="M3.6,-12 Q4,-3 0,0"/><path d="M-2.4,2.6 L2.4,-2.6"/></g>
<line x1="520.6" y1="626.3" x2="513.9" y2="620.3" stroke="#333" stroke-width="1.1" />
<line x1="513.9" y1="620.3" x2="536.7" y2="595.2" stroke="#333" stroke-width="1.0" stroke-dasharray="5 3" stroke-dashoffset="0"/>
<path d="M508.9,620 L510.60,625.60 L508.9,634 L507.20,625.60 Z" fill="#111" stroke="#111" stroke-width="0.3"/>
<text x="511.7" y="655.0" font-size="15" text-anchor="start" fill="#1a1a1a" >FBJ</text>
<polyline points="760.3,613 781.4,613 781.4,461 789.8,450.3 935,450.3 939.4,454.4 947.2,462.2 951.7,466 951.7,507.8 960.6,508.9 972.8,518.9 974.3,521 974.3,539.6 947.2,539.6 947.2,575.6 951.7,584.4 960.6,593.3 965.1,597 965.1,615.4 949.4,630.3 832.2,630.3 821.5,641 812.2,648 812.2,700" fill="none" stroke="#7a7a7a" stroke-width="1.1" stroke-dasharray="6 3.5"/>
<polyline points="722.7,505 722.7,612" fill="none" stroke="#7a7a7a" stroke-width="1.1" stroke-dasharray="6 3.5"/>
<line x1="302.3" y1="640.2" x2="723" y2="640.2" stroke="#8a8a8a" stroke-width="1.1" />
<text x="643" y="442.8" font-size="15" text-anchor="start" fill="#1a1a1a" >CJ</text>
<g transform="translate(654.7,457.9) rotate(0) scale(1.0,1.0)" fill="none" stroke="#2a2a2a" stroke-width="1.1"><path d="M2.2,2 L-13,-12"/><path d="M3.6,-12 Q4,-3 0,0"/><path d="M-2.4,2.6 L2.4,-2.6"/></g>
<path d="M668.9,452 L670.60,458.60 L668.9,463 L667.20,458.60 Z" fill="#111" stroke="#111" stroke-width="0.3"/>
<polyline points="654.7,457.9 660.5,461.8 660.5,622 691.7,622" fill="none" stroke="#6a6a6a" stroke-width="1.1" />
<text x="775.3" y="444.3" font-size="15" text-anchor="start" fill="#1a1a1a" >CJ</text>
<g transform="translate(781.1,459.9) rotate(0) scale(-1.0,1.0)" fill="none" stroke="#2a2a2a" stroke-width="1.1"><path d="M2.2,2 L-13,-12"/><path d="M3.6,-12 Q4,-3 0,0"/><path d="M-2.4,2.6 L2.4,-2.6"/></g>
<path d="M771,456 L772.70,462.60 L771,467 L769.30,462.60 Z" fill="#111" stroke="#111" stroke-width="0.3"/>
<polyline points="781.1,459.9 778.2,462.5 778.2,621 752.7,621" fill="none" stroke="#6a6a6a" stroke-width="1.1" />
<text x="804" y="441.4" font-size="15" text-anchor="start" fill="#1a1a1a" >QJJ</text>
<g transform="translate(811.2,458.9) rotate(0) scale(-1.0,1.0)" fill="none" stroke="#2a2a2a" stroke-width="1.1"><path d="M2.2,2 L-13,-12"/><path d="M3.6,-12 Q4,-3 0,0"/><path d="M-2.4,2.6 L2.4,-2.6"/></g>
<path d="M803.5,455 L805.20,459.40 L803.5,466 L801.80,459.40 Z" fill="#111" stroke="#111" stroke-width="0.3"/>
<text x="692.6" y="497.8" font-size="15" text-anchor="start" fill="#1a1a1a" >KZ-GDJ</text>
<line x1="715.3" y1="501.5" x2="719.6" y2="506" stroke="#333" stroke-width="1.1" />
<line x1="724" y1="501.5" x2="719.6" y2="506" stroke="#333" stroke-width="1.1" />
<line x1="719.5" y1="506" x2="719.5" y2="694" stroke="#888" stroke-width="1.2" />
<text x="575" y="528.0" font-size="15" text-anchor="start" fill="#1a1a1a" >KF</text>
<text x="597.4" y="528.0" font-size="15" text-anchor="start" fill="#1a1a1a" >1LJ</text>
<text x="630.4" y="528.0" font-size="15" text-anchor="start" fill="#1a1a1a" >2LJ</text>
<line x1="660.5" y1="532.4" x2="594" y2="532.4" stroke="#555" stroke-width="1.1" />
<path d="M595.6,530.1999999999999 L587.6,532.4 L595.6,534.6 L594.6,532.4 Z" fill="#222"/>
<circle cx="660.5" cy="532.4" r="2.6" fill="#000"/>
<g transform="translate(611,544.4) rotate(0) scale(1.0,1.0)" fill="none" stroke="#2a2a2a" stroke-width="1.1"><path d="M2.2,2 L-13,-12"/><path d="M3.6,-12 Q4,-3 0,0"/><path d="M-2.4,2.6 L2.4,-2.6"/></g>
<g transform="translate(642,544.4) rotate(0) scale(1.0,1.0)" fill="none" stroke="#2a2a2a" stroke-width="1.1"><path d="M2.2,2 L-13,-12"/><path d="M3.6,-12 Q4,-3 0,0"/><path d="M-2.4,2.6 L2.4,-2.6"/></g>
<path d="M621.3,537 L623.00,544.20 L621.3,549 L619.60,544.20 Z" fill="#111" stroke="#111" stroke-width="0.3"/>
<path d="M651.8,537 L653.50,544.20 L651.8,549 L650.10,544.20 Z" fill="#111" stroke="#111" stroke-width="0.3"/>
<path d="M667.3,547 L669.00,553.60 L667.3,558 L665.60,553.60 Z" fill="#111" stroke="#111" stroke-width="0.3"/>
<circle cx="697.1" cy="526.9" r="7.6" fill="none" stroke="#222" stroke-width="1.1" />
<text x="697.1" y="531.2" font-size="12" text-anchor="middle" fill="#1a1a1a" >A</text>
<line x1="697.1" y1="534.5" x2="697.1" y2="563.2" stroke="#444" stroke-width="1.1" />
<circle cx="696.7" cy="563.2" r="2.6" fill="#000"/>
<g transform="translate(707.5,547.3) rotate(90) scale(1.0,1.0)" fill="none" stroke="#2a2a2a" stroke-width="1.1"><path d="M2.2,2 L-13,-12"/><path d="M3.6,-12 Q4,-3 0,0"/><path d="M-2.4,2.6 L2.4,-2.6"/></g>
<text x="724.7" y="549.4" font-size="15" text-anchor="start" fill="#1a1a1a" >QJJ</text>
<path d="M709.1,553 L710.80,557.40 L709.1,564 L707.40,557.40 Z" fill="#111" stroke="#111" stroke-width="0.3"/>
<circle cx="778.2" cy="532.4" r="2.6" fill="#000"/>
<line x1="778.2" y1="532.4" x2="850" y2="532.4" stroke="#555" stroke-width="1.1" />
<path d="M848.9,530.1999999999999 L856.9,532.4 L848.9,534.6 L849.9,532.4 Z" fill="#222"/>
<text x="789.8" y="528.0" font-size="15" text-anchor="start" fill="#1a1a1a" >2LJ</text>
<text x="819" y="528.0" font-size="15" text-anchor="start" fill="#1a1a1a" >1LJ</text>
<text x="842.3" y="548.4" font-size="15" text-anchor="start" fill="#1a1a1a" >KF</text>
<g transform="translate(797.6,546.7) rotate(0) scale(-1.0,1.0)" fill="none" stroke="#2a2a2a" stroke-width="1.1"><path d="M2.2,2 L-13,-12"/><path d="M3.6,-12 Q4,-3 0,0"/><path d="M-2.4,2.6 L2.4,-2.6"/></g>
<g transform="translate(827.8,546.7) rotate(0) scale(-1.0,1.0)" fill="none" stroke="#2a2a2a" stroke-width="1.1"><path d="M2.2,2 L-13,-12"/><path d="M3.6,-12 Q4,-3 0,0"/><path d="M-2.4,2.6 L2.4,-2.6"/></g>
<path d="M788.5,538 L790.20,545.20 L788.5,550 L786.80,545.20 Z" fill="#111" stroke="#111" stroke-width="0.3"/>
<path d="M818.4,538 L820.10,545.20 L818.4,550 L816.70,545.20 Z" fill="#111" stroke="#111" stroke-width="0.3"/>
<g transform="translate(672.7,565.2) rotate(-90) scale(1.0,1.0)" fill="none" stroke="#2a2a2a" stroke-width="1.1"><path d="M2.2,2 L-13,-12"/><path d="M4.3,-17 Q4,-3 0,0"/><path d="M-2.4,2.6 L2.4,-2.6"/></g>
<line x1="672.7" y1="565.2" x2="677.2" y2="563.2" stroke="#2a2a2a" stroke-width="1.1" />
<line x1="677" y1="563.2" x2="762" y2="563.2" stroke="#555" stroke-width="1.1" />
<text x="639.7" y="572.4" font-size="15" text-anchor="start" fill="#1a1a1a" >CJ</text>
<g transform="translate(766.2,565.2) rotate(90) scale(-1.0,1.0)" fill="none" stroke="#2a2a2a" stroke-width="1.1"><path d="M2.2,2 L-13,-12"/><path d="M4.3,-17 Q4,-3 0,0"/><path d="M-2.4,2.6 L2.4,-2.6"/></g>
<line x1="761.8" y1="563.2" x2="766.2" y2="565.2" stroke="#2a2a2a" stroke-width="1.1" />
<text x="785" y="572.5" font-size="15" text-anchor="start" fill="#1a1a1a" >CJ</text>
<path d="M771,547 L772.70,553.60 L771,558 L769.30,553.60 Z" fill="#111" stroke="#111" stroke-width="0.3"/>
<circle cx="703" cy="627.1" r="11.3" fill="none" stroke="#111" stroke-width="2.0" />
<circle cx="741.2" cy="627.1" r="11.3" fill="none" stroke="#111" stroke-width="2.0" />
<line x1="691.8" y1="627.1" x2="752.5" y2="627.1" stroke="#999" stroke-width="1.2" />
<circle cx="719.4" cy="621" r="2.6" fill="#000"/>
<circle cx="683.8" cy="635.6" r="2.6" fill="#000"/>
<circle cx="759.6" cy="635.2" r="2.6" fill="#000"/>
<text x="685.2" y="620.2" font-size="15" text-anchor="start" fill="#1a1a1a" >2</text>
<text x="691.6" y="609.9" font-size="15" text-anchor="start" fill="#1a1a1a" >1LJ</text>
<text x="712.6" y="619.5" font-size="14" text-anchor="start" fill="#1a1a1a" >1</text>
<text x="724.8" y="619.5" font-size="14" text-anchor="start" fill="#1a1a1a" >1</text>
<text x="730.5" y="612.2" font-size="15" text-anchor="start" fill="#1a1a1a" >2LJ</text>
<text x="754.2" y="619.9" font-size="15" text-anchor="start" fill="#1a1a1a" >2</text>
<text x="682.3" y="633.5" font-size="15" text-anchor="start" fill="#1a1a1a" >4</text>
<text x="715.8" y="633.1" font-size="13.5" text-anchor="start" fill="#1a1a1a" >33</text>
<text x="754.2" y="632.9" font-size="15" text-anchor="start" fill="#1a1a1a" >4</text>
<text x="582.2" y="629.0" font-size="15" text-anchor="start" fill="#1a1a1a" >QJJ</text>
<g transform="translate(595.6,647.9) rotate(0) scale(1.0,1.0)" fill="none" stroke="#2a2a2a" stroke-width="1.1"><path d="M2.2,2 L-13,-12"/><path d="M3.6,-12 Q4,-3 0,0"/><path d="M-2.4,2.6 L2.4,-2.6"/></g>
<path d="M604.6,640 L606.30,645.60 L604.6,654 L602.90,645.60 Z" fill="#111" stroke="#111" stroke-width="0.3"/>
<polyline points="599.5,648 599.5,664.4 839.7,664.4 839.7,647" fill="none" stroke="#6a6a6a" stroke-width="1.1" />
<text x="614.1" y="632.2" font-size="15" text-anchor="start" fill="#1a1a1a" >2LJ</text>
<g transform="translate(624.5,647.9) rotate(0) scale(1.0,1.0)" fill="none" stroke="#2a2a2a" stroke-width="1.1"><path d="M2.2,2 L-13,-12"/><path d="M3.6,-12 Q4,-3 0,0"/><path d="M-2.4,2.6 L2.4,-2.6"/></g>
<path d="M636.9,643 L638.60,650.80 L636.9,656 L635.20,650.80 Z" fill="#111" stroke="#111" stroke-width="0.3"/>
<line x1="628.9" y1="648" x2="628.9" y2="695" stroke="#6a6a6a" stroke-width="1.1" />
<path d="M626.6999999999999,693.6 L628.9,701.6 L631.1,693.6 L628.9,694.6 Z" fill="#222"/>
<text x="641.3" y="633.8" font-size="15" text-anchor="start" fill="#1a1a1a" >DGJ</text>
<g transform="translate(656.2,647.9) rotate(0) scale(1.0,1.0)" fill="none" stroke="#2a2a2a" stroke-width="1.1"><path d="M2.2,2 L-13,-12"/><path d="M3.6,-12 Q4,-3 0,0"/><path d="M-2.4,2.6 L2.4,-2.6"/></g>
<path d="M667.5,643 L669.20,650.80 L667.5,656 L665.80,650.80 Z" fill="#111" stroke="#111" stroke-width="0.3"/>
<polyline points="658.9,648 658.9,656.8 781,656.8 781,647.5" fill="none" stroke="#6a6a6a" stroke-width="1.1" />
<line x1="683.8" y1="635.6" x2="683.8" y2="695" stroke="#6a6a6a" stroke-width="1.1" />
<path d="M681.5999999999999,693.6 L683.8,701.6 L686.0,693.6 L683.8,694.6 Z" fill="#222"/>
<text x="767.2" y="634.4" font-size="15" text-anchor="start" fill="#1a1a1a" >DGJ</text>
<g transform="translate(782.6,646.9) rotate(0) scale(-1.0,1.0)" fill="none" stroke="#2a2a2a" stroke-width="1.1"><path d="M2.2,2 L-13,-12"/><path d="M3.6,-12 Q4,-3 0,0"/><path d="M-2.4,2.6 L2.4,-2.6"/></g>
<path d="M774.1,640 L775.80,647.20 L774.1,652 L772.40,647.20 Z" fill="#111" stroke="#111" stroke-width="0.3"/>
<line x1="759.6" y1="635.2" x2="759.6" y2="698" stroke="#6a6a6a" stroke-width="1.1" />
<path d="M757.4,697 L759.6,705 L761.8000000000001,697 L759.6,698 Z" fill="#222"/>
<text x="804.4" y="630.0" font-size="15" text-anchor="start" fill="#1a1a1a" >1LJ</text>
<g transform="translate(811.7,646.9) rotate(0) scale(-1.0,1.0)" fill="none" stroke="#2a2a2a" stroke-width="1.1"><path d="M2.2,2 L-13,-12"/><path d="M3.6,-12 Q4,-3 0,0"/><path d="M-2.4,2.6 L2.4,-2.6"/></g>
<path d="M804.4,640 L806.10,647.20 L804.4,652 L802.70,647.20 Z" fill="#111" stroke="#111" stroke-width="0.3"/>
<line x1="808.1" y1="647" x2="808.1" y2="698" stroke="#6a6a6a" stroke-width="1.1" />
<path d="M805.9,697 L808.1,705 L810.3000000000001,697 L808.1,698 Z" fill="#222"/>
<text x="836" y="625.2" font-size="15" text-anchor="start" fill="#1a1a1a" >QJJ</text>
<g transform="translate(843.3,645.7) rotate(0) scale(-1.0,1.0)" fill="none" stroke="#2a2a2a" stroke-width="1.1"><path d="M2.2,2 L-13,-12"/><path d="M3.6,-12 Q4,-3 0,0"/><path d="M-2.4,2.6 L2.4,-2.6"/></g>
<path d="M834.1,640 L835.80,644.80 L834.1,652 L832.40,644.80 Z" fill="#111" stroke="#111" stroke-width="0.3"/>
<g transform="translate(616.5,687) rotate(90) scale(1.0,1.0)" fill="none" stroke="#2a2a2a" stroke-width="1.1"><path d="M2.2,2 L-13,-12"/><path d="M3.6,-12 Q4,-3 0,0"/><path d="M-2.4,2.6 L2.4,-2.6"/></g>
<text x="635.5" y="689.4" font-size="15" text-anchor="start" fill="#1a1a1a" >FDGJ</text>
<path d="M620.4,690 L622.10,697.80 L620.4,703 L618.70,697.80 Z" fill="#111" stroke="#111" stroke-width="0.3"/>
<g transform="translate(696,681) rotate(-90) scale(-1.0,1.0)" fill="none" stroke="#2a2a2a" stroke-width="1.1"><path d="M2.2,2 L-13,-12"/><path d="M3.6,-12 Q4,-3 0,0"/><path d="M-2.4,2.6 L2.4,-2.6"/></g>
<text x="661" y="677.0" font-size="15" text-anchor="start" fill="#1a1a1a" >1LJ</text>
<path d="M688.5,688 L690.20,695.80 L688.5,701 L686.80,695.80 Z" fill="#111" stroke="#111" stroke-width="0.3"/>
<g transform="translate(707.5,681) rotate(90) scale(1.0,1.0)" fill="none" stroke="#2a2a2a" stroke-width="1.1"><path d="M2.2,2 L-13,-12"/><path d="M3.6,-12 Q4,-3 0,0"/><path d="M-2.4,2.6 L2.4,-2.6"/></g>
<text x="724.3" y="677.4" font-size="15" text-anchor="start" fill="#1a1a1a" >QJJ</text>
<path d="M711.2,688 L712.90,692.80 L711.2,700 L709.50,692.80 Z" fill="#111" stroke="#111" stroke-width="0.3"/>
<g transform="translate(747.5,680.9) rotate(90) scale(1.0,1.0)" fill="none" stroke="#2a2a2a" stroke-width="1.1"><path d="M2.2,2 L-13,-12"/><path d="M3.6,-12 Q4,-3 0,0"/><path d="M-2.4,2.6 L2.4,-2.6"/></g>
<text x="763.2" y="681.0" font-size="15" text-anchor="start" fill="#1a1a1a" >2LJ</text>
<path d="M754.7,690 L756.40,697.20 L754.7,702 L753.00,697.20 Z" fill="#111" stroke="#111" stroke-width="0.3"/>
<g transform="translate(821.4,687) rotate(-90) scale(-1.0,1.0)" fill="none" stroke="#2a2a2a" stroke-width="1.1"><path d="M2.2,2 L-13,-12"/><path d="M3.6,-12 Q4,-3 0,0"/><path d="M-2.4,2.6 L2.4,-2.6"/></g>
<text x="825.1" y="684.7" font-size="15" text-anchor="start" fill="#1a1a1a" >FDGJ</text>
<path d="M804.4,680 L806.10,684.80 L804.4,692 L802.70,684.80 Z" fill="#111" stroke="#111" stroke-width="0.3"/>
<text x="691.3" y="708.6" font-size="15" text-anchor="start" fill="#1a1a1a" >KF</text>
<text x="727.9" y="706.5" font-size="15" text-anchor="start" fill="#1a1a1a" >KZ</text>
<text x="764.4" y="704.1" font-size="15" text-anchor="start" fill="#1a1a1a" >KF</text>
<text x="814.2" y="706.5" font-size="15" text-anchor="start" fill="#1a1a1a" >KF</text>
<text x="875.7" y="442.4" font-size="15" text-anchor="start" fill="#1a1a1a" >1SJ</text>
<g transform="translate(895,458.5) rotate(0) scale(1.0,1.0)" fill="none" stroke="#2a2a2a" stroke-width="1.1"><path d="M2.2,2 L-13,-12"/><path d="M3.6,-12 Q4,-3 0,0"/><path d="M-2.4,2.6 L2.4,-2.6"/></g>
<path d="M901,453 L902.70,460.20 L901,465 L899.30,460.20 Z" fill="#111" stroke="#111" stroke-width="0.3"/>
<text x="905.3" y="464.2" font-size="15" text-anchor="start" fill="#1a1a1a" >FBJ</text>
<line x1="910.5" y1="447" x2="927.1" y2="434" stroke="#333" stroke-width="1.1" />
<line x1="912.3" y1="418.3" x2="927.1" y2="437.5" stroke="#333" stroke-width="1.1" />
<path d="M923.5,433.5 Q927.5,440 926.5,447" fill="none" stroke="#333" stroke-width="1.05"/>
<path d="M928.3,433 L930.00,438.20 L928.3,446 L926.60,438.20 Z" fill="#111" stroke="#111" stroke-width="0.3"/>
<text x="941" y="442.4" font-size="15" text-anchor="start" fill="#1a1a1a" >KJ</text>
<g transform="translate(951.5,457.5) rotate(0) scale(1.0,1.0)" fill="none" stroke="#2a2a2a" stroke-width="1.1"><path d="M2.2,2 L-13,-12"/><path d="M3.6,-12 Q4,-3 0,0"/><path d="M-2.4,2.6 L2.4,-2.6"/></g>
<path d="M962.8,452 L964.50,457.20 L962.8,465 L961.10,457.20 Z" fill="#111" stroke="#111" stroke-width="0.3"/>
<polyline points="951.5,457.5 957.3,461 957.3,502.2 1046.5,502.2 1046.5,555" fill="none" stroke="#6a6a6a" stroke-width="1.1" />
<path d="M1044.3,553.8 L1046.5,561.8 L1048.7,553.8 L1046.5,554.8 Z" fill="#222"/>
<rect x="970.7" y="405.4" width="21.799999999999955" height="16.900000000000034" fill="none" stroke="#555" stroke-width="1.0"/>
<rect x="992.5" y="405.4" width="36.5" height="16.900000000000034" fill="none" stroke="#555" stroke-width="1.0"/>
<text x="972" y="418.9" font-size="15" text-anchor="start" fill="#1a1a1a">D<tspan font-size="9.0" dy="2" style="stroke-width:0.15px">17</tspan></text>
<text x="994" y="418.9" font-size="15" text-anchor="start" fill="#1a1a1a" >1LXF</text>
<text x="990.7" y="435.4" font-size="15" text-anchor="start" fill="#1a1a1a" >GJJ</text>
<circle cx="1022.1" cy="442.7" r="11.3" fill="none" stroke="#111" stroke-width="2.0" />
<line x1="1010.8" y1="442.7" x2="1033.4" y2="442.7" stroke="#777" stroke-width="1.1" />
<text x="1004.7" y="470.3" font-size="15" text-anchor="start" fill="#1a1a1a" >ZCJ</text>
<line x1="1045.6" y1="447" x2="1045.6" y2="482" stroke="#9a9a9a" stroke-width="1.6" />
<line x1="1045.6" y1="459" x2="1034.7" y2="472.9" stroke="#333" stroke-width="1.1" />
<line x1="1032.6" y1="474.3" x2="1049.3" y2="474.3" stroke="#333" stroke-width="1.1" />
<path d="M1037.5,469 Q1041.5,470.5 1042.5,474.3" fill="none" stroke="#333" stroke-width="1"/>
<path d="M1037.8,475.3 L1039.50,482.02 L1037.8,486.5 L1036.10,482.02 Z" fill="#111" stroke="#111" stroke-width="0.3"/>
<line x1="1045.8" y1="482" x2="1041.7" y2="486.5" stroke="#444" stroke-width="1.1" />
<line x1="1045.8" y1="482" x2="1050.7" y2="486.5" stroke="#444" stroke-width="1.1" />
<text x="1035.2" y="500.8" font-size="15" text-anchor="start" fill="#1a1a1a" >KZ-GDJ</text>
<text x="961.1" y="497.3" font-size="15" text-anchor="start" fill="#1a1a1a" >XJJ</text>
<text x="992.5" y="497.3" font-size="15" text-anchor="start" fill="#1a1a1a" >QJ</text>
<text x="1011.6" y="497.3" font-size="15" text-anchor="start" fill="#1a1a1a" >JYJ</text>
<g transform="translate(982.3,514.4) rotate(0) scale(1.0,1.0)" fill="none" stroke="#2a2a2a" stroke-width="1.1"><path d="M2.2,2 L-13,-12"/><path d="M3.6,-12 Q4,-3 0,0"/><path d="M-2.4,2.6 L2.4,-2.6"/></g>
<path d="M990.4,510 L992.10,514.40 L990.4,521 L988.70,514.40 Z" fill="#111" stroke="#111" stroke-width="0.3"/>
<polyline points="982.3,514.4 983.8,516 983.8,532.8 942.6,532.8 942.6,577.1 1005.2,577.1" fill="none" stroke="#6a6a6a" stroke-width="1.1" />
<g transform="translate(1006.7,516.7) rotate(0) scale(1.0,1.0)" fill="none" stroke="#2a2a2a" stroke-width="1.1"><path d="M2.2,2 L-13,-12"/><path d="M3.6,-12 Q4,-3 0,0"/><path d="M-2.4,2.6 L2.4,-2.6"/></g>
<path d="M1011.8,512 L1013.50,516.40 L1011.8,523 L1010.10,516.40 Z" fill="#111" stroke="#111" stroke-width="0.3"/>
<g transform="translate(1025.8,517.5) rotate(0) scale(1.0,1.0)" fill="none" stroke="#2a2a2a" stroke-width="1.1"><path d="M2.2,2 L-13,-12"/><path d="M3.6,-12 Q4,-3 0,0"/><path d="M-2.4,2.6 L2.4,-2.6"/></g>
<path d="M1034.7,513 L1036.40,519.60 L1034.7,524 L1033.00,519.60 Z" fill="#111" stroke="#111" stroke-width="0.3"/>
<line x1="1027.1" y1="517.5" x2="1027.1" y2="555" stroke="#6a6a6a" stroke-width="1.1" />
<path d="M1024.8999999999999,553.8 L1027.1,561.8 L1029.3,553.8 L1027.1,554.8 Z" fill="#222"/>
<text x="1006" y="559.9" font-size="15" text-anchor="start" fill="#1a1a1a" >KF</text>
<text x="1027.4" y="579.8" font-size="15" text-anchor="start" fill="#1a1a1a" >KF-30</text>
<path transform="translate(1072,567.3) scale(1.0)" d="M5.5,1 L1.5,2.5 M1,5 L7,5 M4,2 L4,14.5 M4,6 L1,11 M4,7 L6.5,9.5 M10.5,1 L10.5,9 M8.5,3.5 L7.5,7 M12.5,3.5 L14,6.5 M13.5,8.5 Q11,13 7,14.5" fill="none" stroke="#222" stroke-width="1.25" stroke-linecap="round"/>
<text x="949.4" y="575.2" font-size="15" text-anchor="start" fill="#1a1a1a" >DXJ</text>
<text x="985.4" y="575.2" font-size="15" text-anchor="start" fill="#1a1a1a" >LXJ</text>
<g transform="translate(967,590) rotate(0) scale(1.0,1.0)" fill="none" stroke="#2a2a2a" stroke-width="1.1"><path d="M2.2,2 L-13,-12"/><path d="M3.6,-12 Q4,-3 0,0"/><path d="M-2.4,2.6 L2.4,-2.6"/></g>
<g transform="translate(996.8,590) rotate(0) scale(1.0,1.0)" fill="none" stroke="#2a2a2a" stroke-width="1.1"><path d="M2.2,2 L-13,-12"/><path d="M3.6,-12 Q4,-3 0,0"/><path d="M-2.4,2.6 L2.4,-2.6"/></g>
<path d="M978.8,585 L980.50,589.80 L978.8,597 L977.10,589.80 Z" fill="#111" stroke="#111" stroke-width="0.3"/>
<path d="M1008.3,583 L1010.00,591.40 L1008.3,597 L1006.60,591.40 Z" fill="#111" stroke="#111" stroke-width="0.3"/>
<polyline points="967,590 971.9,593 971.9,622" fill="none" stroke="#6a6a6a" stroke-width="1.1" />
<circle cx="971.9" cy="606.3" r="2.6" fill="#000"/>
<polyline points="971.9,606.3 1000,606.3 1000,592" fill="none" stroke="#6a6a6a" stroke-width="1.1" />
<text x="1001" y="616.0" font-size="15" text-anchor="start" fill="#1a1a1a" >9-15DG</text>
<line x1="1001" y1="615.6" x2="1045" y2="615.6" stroke="#444" stroke-width="1.1" />
<text x="984" y="631.0" font-size="15" text-anchor="start" fill="#1a1a1a" >GJJ</text>
<text x="1007.5" y="631.0" font-size="15" text-anchor="start" fill="#1a1a1a" >FDGJ</text>
<g transform="translate(970,624) rotate(0) scale(1.0,-1.0)" fill="none" stroke="#2a2a2a" stroke-width="1.1"><path d="M2.2,2 L-13,-12"/><path d="M3.6,-12 Q4,-3 0,0"/><path d="M-2.4,2.6 L2.4,-2.6"/></g>
<path d="M978.4,619 L980.10,626.20 L978.4,631 L976.70,626.20 Z" fill="#111" stroke="#111" stroke-width="0.3"/>
<text x="959.7" y="647.8" font-size="15" text-anchor="start" fill="#1a1a1a" >KJ</text>
<g transform="translate(997.2,645.6) rotate(0) scale(1.0,1.0)" fill="none" stroke="#2a2a2a" stroke-width="1.1"><path d="M2.2,2 L-13,-12"/><path d="M3.6,-12 Q4,-3 0,0"/><path d="M-2.4,2.6 L2.4,-2.6"/></g>
<path d="M1007.5,640 L1009.20,644.80 L1007.5,652 L1005.80,644.80 Z" fill="#111" stroke="#111" stroke-width="0.3"/>
<line x1="1001.9" y1="646" x2="1001.9" y2="662" stroke="#6a6a6a" stroke-width="1.1" />
<path d="M999.6999999999999,660.1 L1001.9,668.1 L1004.1,660.1 L1001.9,661.1 Z" fill="#222"/>
<text x="978.4" y="665.6" font-size="15" text-anchor="start" fill="#1a1a1a" >KF</text>
<g transform="translate(1029,646.6) rotate(0) scale(1.0,1.0)" fill="none" stroke="#2a2a2a" stroke-width="1.1"><path d="M2.2,2 L-13,-12"/><path d="M3.6,-12 Q4,-3 0,0"/><path d="M-2.4,2.6 L2.4,-2.6"/></g>
<path d="M1033.8,640 L1035.50,644.80 L1033.8,652 L1032.10,644.80 Z" fill="#111" stroke="#111" stroke-width="0.3"/>
<line x1="1039.4" y1="634.4" x2="1039.4" y2="678" stroke="#6a6a6a" stroke-width="1.1" />
<path d="M1037.2,676.1 L1039.4,684.1 L1041.6000000000001,676.1 L1039.4,677.1 Z" fill="#222"/>
<g transform="translate(1027,660) rotate(90) scale(-1.0,1.0)" fill="none" stroke="#2a2a2a" stroke-width="1.1"><path d="M2.2,2 L-13,-12"/><path d="M3.6,-12 Q4,-3 0,0"/><path d="M-2.4,2.6 L2.4,-2.6"/></g>
<path d="M1043.1,662 L1044.80,669.80 L1043.1,675 L1041.40,669.80 Z" fill="#111" stroke="#111" stroke-width="0.3"/>
<text x="999" y="683.4" font-size="15" text-anchor="start" fill="#1a1a1a" >IGJF</text>
<text x="1024.4" y="702.2" font-size="15" text-anchor="start" fill="#1a1a1a" >KF</text>
<polyline points="316.4,611 316.4,554.4 290.2,554.4 276.3,567 276.3,618.5 302.3,640.2 723,640.2 723,693" fill="none" stroke="#1a1aff" stroke-width="2.8" stroke-dasharray="10 8" stroke-linejoin="miter"/>
<polyline points="309.2,603.2 316.4,614.9 321.8,603.2" fill="none" stroke="#1a1aff" stroke-width="2.8"/>
<polyline points="716.5,701.5 723,694 729.5,701.5" fill="none" stroke="#1a1aff" stroke-width="2.8"/>
<line x1="723" y1="688" x2="723" y2="694" stroke="#1a1aff" stroke-width="2.8" />
</svg></body></html>
